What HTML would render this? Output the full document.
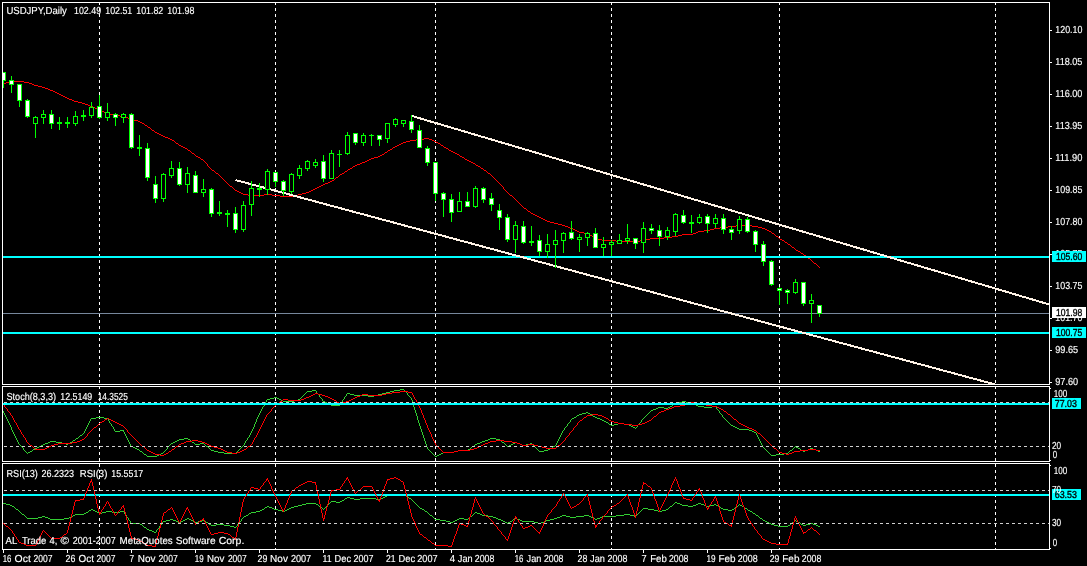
<!DOCTYPE html>
<html><head><meta charset="utf-8"><title>USDJPY,Daily</title>
<style>
html,body{margin:0;padding:0;background:#000;overflow:hidden}
svg{display:block}
text{font-family:"Liberation Sans",sans-serif;white-space:pre;stroke:#fff;stroke-width:.15px}
text.k{stroke:#000;stroke-width:.35px}
</style></head>
<body>
<svg width="1087" height="566" viewBox="0 0 1087 566" shape-rendering="crispEdges">
<rect width="1087" height="566" fill="#000"/>
<path d="M99.5 2v3M99.5 8v3M99.5 14v3M99.5 20v3M99.5 26v3M99.5 32v3M99.5 38v3M99.5 44v3M99.5 50v3M99.5 56v3M99.5 62v3M99.5 68v3M99.5 74v3M99.5 80v3M99.5 86v3M99.5 92v3M99.5 98v3M99.5 104v3M99.5 110v3M99.5 116v3M99.5 122v3M99.5 128v3M99.5 134v3M99.5 140v3M99.5 146v3M99.5 152v3M99.5 158v3M99.5 164v3M99.5 170v3M99.5 176v3M99.5 182v3M99.5 188v3M99.5 194v3M99.5 200v3M99.5 206v3M99.5 212v3M99.5 218v3M99.5 224v3M99.5 230v3M99.5 236v3M99.5 242v3M99.5 248v3M99.5 254v3M99.5 260v3M99.5 266v3M99.5 272v3M99.5 278v3M99.5 284v3M99.5 290v3M99.5 296v3M99.5 302v3M99.5 308v3M99.5 314v3M99.5 320v3M99.5 326v3M99.5 332v3M99.5 338v3M99.5 344v3M99.5 350v3M99.5 356v3M99.5 362v3M99.5 368v3M99.5 374v3M99.5 380v3M99.5 386v3M99.5 392v3M99.5 398v3M99.5 404v3M99.5 410v3M99.5 416v3M99.5 422v3M99.5 428v3M99.5 434v3M99.5 440v3M99.5 446v3M99.5 452v3M99.5 458v3M99.5 464v3M99.5 470v3M99.5 476v3M99.5 482v3M99.5 488v3M99.5 494v3M99.5 500v3M99.5 506v3M99.5 512v3M99.5 518v3M99.5 524v3M99.5 530v3M99.5 536v3M99.5 542v3M99.5 548v1M275.5 2v3M275.5 8v3M275.5 14v3M275.5 20v3M275.5 26v3M275.5 32v3M275.5 38v3M275.5 44v3M275.5 50v3M275.5 56v3M275.5 62v3M275.5 68v3M275.5 74v3M275.5 80v3M275.5 86v3M275.5 92v3M275.5 98v3M275.5 104v3M275.5 110v3M275.5 116v3M275.5 122v3M275.5 128v3M275.5 134v3M275.5 140v3M275.5 146v3M275.5 152v3M275.5 158v3M275.5 164v3M275.5 170v3M275.5 176v3M275.5 182v3M275.5 188v3M275.5 194v3M275.5 200v3M275.5 206v3M275.5 212v3M275.5 218v3M275.5 224v3M275.5 230v3M275.5 236v3M275.5 242v3M275.5 248v3M275.5 254v3M275.5 260v3M275.5 266v3M275.5 272v3M275.5 278v3M275.5 284v3M275.5 290v3M275.5 296v3M275.5 302v3M275.5 308v3M275.5 314v3M275.5 320v3M275.5 326v3M275.5 332v3M275.5 338v3M275.5 344v3M275.5 350v3M275.5 356v3M275.5 362v3M275.5 368v3M275.5 374v3M275.5 380v3M275.5 386v3M275.5 392v3M275.5 398v3M275.5 404v3M275.5 410v3M275.5 416v3M275.5 422v3M275.5 428v3M275.5 434v3M275.5 440v3M275.5 446v3M275.5 452v3M275.5 458v3M275.5 464v3M275.5 470v3M275.5 476v3M275.5 482v3M275.5 488v3M275.5 494v3M275.5 500v3M275.5 506v3M275.5 512v3M275.5 518v3M275.5 524v3M275.5 530v3M275.5 536v3M275.5 542v3M275.5 548v1M435.5 2v3M435.5 8v3M435.5 14v3M435.5 20v3M435.5 26v3M435.5 32v3M435.5 38v3M435.5 44v3M435.5 50v3M435.5 56v3M435.5 62v3M435.5 68v3M435.5 74v3M435.5 80v3M435.5 86v3M435.5 92v3M435.5 98v3M435.5 104v3M435.5 110v3M435.5 116v3M435.5 122v3M435.5 128v3M435.5 134v3M435.5 140v3M435.5 146v3M435.5 152v3M435.5 158v3M435.5 164v3M435.5 170v3M435.5 176v3M435.5 182v3M435.5 188v3M435.5 194v3M435.5 200v3M435.5 206v3M435.5 212v3M435.5 218v3M435.5 224v3M435.5 230v3M435.5 236v3M435.5 242v3M435.5 248v3M435.5 254v3M435.5 260v3M435.5 266v3M435.5 272v3M435.5 278v3M435.5 284v3M435.5 290v3M435.5 296v3M435.5 302v3M435.5 308v3M435.5 314v3M435.5 320v3M435.5 326v3M435.5 332v3M435.5 338v3M435.5 344v3M435.5 350v3M435.5 356v3M435.5 362v3M435.5 368v3M435.5 374v3M435.5 380v3M435.5 386v3M435.5 392v3M435.5 398v3M435.5 404v3M435.5 410v3M435.5 416v3M435.5 422v3M435.5 428v3M435.5 434v3M435.5 440v3M435.5 446v3M435.5 452v3M435.5 458v3M435.5 464v3M435.5 470v3M435.5 476v3M435.5 482v3M435.5 488v3M435.5 494v3M435.5 500v3M435.5 506v3M435.5 512v3M435.5 518v3M435.5 524v3M435.5 530v3M435.5 536v3M435.5 542v3M435.5 548v1M611.5 2v3M611.5 8v3M611.5 14v3M611.5 20v3M611.5 26v3M611.5 32v3M611.5 38v3M611.5 44v3M611.5 50v3M611.5 56v3M611.5 62v3M611.5 68v3M611.5 74v3M611.5 80v3M611.5 86v3M611.5 92v3M611.5 98v3M611.5 104v3M611.5 110v3M611.5 116v3M611.5 122v3M611.5 128v3M611.5 134v3M611.5 140v3M611.5 146v3M611.5 152v3M611.5 158v3M611.5 164v3M611.5 170v3M611.5 176v3M611.5 182v3M611.5 188v3M611.5 194v3M611.5 200v3M611.5 206v3M611.5 212v3M611.5 218v3M611.5 224v3M611.5 230v3M611.5 236v3M611.5 242v3M611.5 248v3M611.5 254v3M611.5 260v3M611.5 266v3M611.5 272v3M611.5 278v3M611.5 284v3M611.5 290v3M611.5 296v3M611.5 302v3M611.5 308v3M611.5 314v3M611.5 320v3M611.5 326v3M611.5 332v3M611.5 338v3M611.5 344v3M611.5 350v3M611.5 356v3M611.5 362v3M611.5 368v3M611.5 374v3M611.5 380v3M611.5 386v3M611.5 392v3M611.5 398v3M611.5 404v3M611.5 410v3M611.5 416v3M611.5 422v3M611.5 428v3M611.5 434v3M611.5 440v3M611.5 446v3M611.5 452v3M611.5 458v3M611.5 464v3M611.5 470v3M611.5 476v3M611.5 482v3M611.5 488v3M611.5 494v3M611.5 500v3M611.5 506v3M611.5 512v3M611.5 518v3M611.5 524v3M611.5 530v3M611.5 536v3M611.5 542v3M611.5 548v1M779.5 2v3M779.5 8v3M779.5 14v3M779.5 20v3M779.5 26v3M779.5 32v3M779.5 38v3M779.5 44v3M779.5 50v3M779.5 56v3M779.5 62v3M779.5 68v3M779.5 74v3M779.5 80v3M779.5 86v3M779.5 92v3M779.5 98v3M779.5 104v3M779.5 110v3M779.5 116v3M779.5 122v3M779.5 128v3M779.5 134v3M779.5 140v3M779.5 146v3M779.5 152v3M779.5 158v3M779.5 164v3M779.5 170v3M779.5 176v3M779.5 182v3M779.5 188v3M779.5 194v3M779.5 200v3M779.5 206v3M779.5 212v3M779.5 218v3M779.5 224v3M779.5 230v3M779.5 236v3M779.5 242v3M779.5 248v3M779.5 254v3M779.5 260v3M779.5 266v3M779.5 272v3M779.5 278v3M779.5 284v3M779.5 290v3M779.5 296v3M779.5 302v3M779.5 308v3M779.5 314v3M779.5 320v3M779.5 326v3M779.5 332v3M779.5 338v3M779.5 344v3M779.5 350v3M779.5 356v3M779.5 362v3M779.5 368v3M779.5 374v3M779.5 380v3M779.5 386v3M779.5 392v3M779.5 398v3M779.5 404v3M779.5 410v3M779.5 416v3M779.5 422v3M779.5 428v3M779.5 434v3M779.5 440v3M779.5 446v3M779.5 452v3M779.5 458v3M779.5 464v3M779.5 470v3M779.5 476v3M779.5 482v3M779.5 488v3M779.5 494v3M779.5 500v3M779.5 506v3M779.5 512v3M779.5 518v3M779.5 524v3M779.5 530v3M779.5 536v3M779.5 542v3M779.5 548v1M995.5 2v3M995.5 8v3M995.5 14v3M995.5 20v3M995.5 26v3M995.5 32v3M995.5 38v3M995.5 44v3M995.5 50v3M995.5 56v3M995.5 62v3M995.5 68v3M995.5 74v3M995.5 80v3M995.5 86v3M995.5 92v3M995.5 98v3M995.5 104v3M995.5 110v3M995.5 116v3M995.5 122v3M995.5 128v3M995.5 134v3M995.5 140v3M995.5 146v3M995.5 152v3M995.5 158v3M995.5 164v3M995.5 170v3M995.5 176v3M995.5 182v3M995.5 188v3M995.5 194v3M995.5 200v3M995.5 206v3M995.5 212v3M995.5 218v3M995.5 224v3M995.5 230v3M995.5 236v3M995.5 242v3M995.5 248v3M995.5 254v3M995.5 260v3M995.5 266v3M995.5 272v3M995.5 278v3M995.5 284v3M995.5 290v3M995.5 296v3M995.5 302v3M995.5 308v3M995.5 314v3M995.5 320v3M995.5 326v3M995.5 332v3M995.5 338v3M995.5 344v3M995.5 350v3M995.5 356v3M995.5 362v3M995.5 368v3M995.5 374v3M995.5 380v3M995.5 386v3M995.5 392v3M995.5 398v3M995.5 404v3M995.5 410v3M995.5 416v3M995.5 422v3M995.5 428v3M995.5 434v3M995.5 440v3M995.5 446v3M995.5 452v3M995.5 458v3M995.5 464v3M995.5 470v3M995.5 476v3M995.5 482v3M995.5 488v3M995.5 494v3M995.5 500v3M995.5 506v3M995.5 512v3M995.5 518v3M995.5 524v3M995.5 530v3M995.5 536v3M995.5 542v3M995.5 548v1" fill="none" stroke="#fff" stroke-width="1"/>
<path d="M10 81.5h14M6 82.5h4M24 82.5h5M3 83.5h3M29 83.5h3M32 84.5h2M34 85.5h4M38 86.5h4M42 87.5h3M45 88.5h3M48 89.5h2M50 90.5h3M53 91.5h2M55 92.5h2M57 93.5h2M59 94.5h2M61 95.5h2M63 96.5h2M65 97.5h2M67 98.5h2M69 99.5h3M72 100.5h2M74 101.5h4M78 102.5h4M82 103.5h3M85 104.5h3M88 105.5h2M90 106.5h3M93 107.5h2M95 108.5h2M97 109.5h2M99 110.5h2M101 111.5h3M104 112.5h2M106 113.5h4M110 114.5h4M114 115.5h6M120 116.5h5M125 117.5h3M128 118.5h2M130 119.5h4M134 120.5h4M138 121.5h2M140 122.5h2M142 123.5h2M144 124.5h1M145 125.5h2M147 126.5h1M148 127.5h2M150 128.5h1M151 129.5h1M152 130.5h2M154 131.5h1M155 132.5h2M157 133.5h2M159 134.5h2M161 135.5h2M163 136.5h2M165 137.5h3M168 138.5h2M424 138.5h5M170 139.5h2M416 139.5h8M429 139.5h3M172 140.5h2M410 140.5h6M432 140.5h2M174 141.5h1M406 141.5h4M434 141.5h2M175 142.5h1M403 142.5h3M436 142.5h2M176 143.5h2M401 143.5h2M438 143.5h2M178 144.5h1M399 144.5h2M440 144.5h1M179 145.5h2M397 145.5h2M441 145.5h2M181 146.5h2M395 146.5h2M443 146.5h1M183 147.5h2M393 147.5h2M444 147.5h2M185 148.5h2M392 148.5h1M446 148.5h2M187 149.5h1M390 149.5h2M448 149.5h1M188 150.5h2M388 150.5h2M449 150.5h2M190 151.5h1M387 151.5h1M451 151.5h2M191 152.5h1M385 152.5h2M453 152.5h2M192 153.5h2M384 153.5h1M455 153.5h2M194 154.5h1M382 154.5h2M457 154.5h2M195 155.5h1M380 155.5h2M459 155.5h1M196 156.5h2M378 156.5h2M460 156.5h2M198 157.5h2M374 157.5h4M462 157.5h2M200 158.5h1M371 158.5h3M464 158.5h1M201 159.5h2M369 159.5h2M465 159.5h2M203 160.5h1M367 160.5h2M467 160.5h2M204 161.5h1M365 161.5h2M469 161.5h2M205 162.5h1M362 162.5h3M471 162.5h2M206 163.5h1M360 163.5h2M473 163.5h2M207 164.5h1M357 164.5h3M475 164.5h1M207 165.5h1M355 165.5h2M476 165.5h2M208 166.5h1M353 166.5h2M478 166.5h2M209 167.5h1M352 167.5h1M480 167.5h1M210 168.5h1M350 168.5h2M481 168.5h2M211 169.5h1M348 169.5h2M483 169.5h1M212 170.5h2M347 170.5h1M484 170.5h2M214 171.5h1M345 171.5h2M486 171.5h1M215 172.5h1M344 172.5h1M487 172.5h1M216 173.5h2M342 173.5h2M488 173.5h2M218 174.5h1M340 174.5h2M490 174.5h1M219 175.5h1M339 175.5h1M491 175.5h1M220 176.5h1M338 176.5h1M492 176.5h1M221 177.5h1M336 177.5h2M493 177.5h1M222 178.5h1M335 178.5h1M494 178.5h1M223 179.5h1M334 179.5h1M495 179.5h1M224 180.5h1M332 180.5h2M496 180.5h1M225 181.5h1M330 181.5h2M497 181.5h1M226 182.5h1M328 182.5h2M498 182.5h1M227 183.5h1M325 183.5h3M499 183.5h1M228 184.5h1M323 184.5h2M500 184.5h1M229 185.5h1M321 185.5h2M501 185.5h1M230 186.5h2M319 186.5h2M502 186.5h1M232 187.5h1M317 187.5h2M503 187.5h1M233 188.5h1M315 188.5h2M503 188.5h1M234 189.5h1M313 189.5h2M504 189.5h1M235 190.5h2M311 190.5h2M505 190.5h1M237 191.5h2M309 191.5h2M506 191.5h1M239 192.5h2M306 192.5h3M507 192.5h1M241 193.5h2M302 193.5h4M508 193.5h1M243 194.5h5M264 194.5h8M298 194.5h4M509 194.5h1M248 195.5h16M272 195.5h8M294 195.5h4M510 195.5h2M280 196.5h14M512 196.5h1M513 197.5h1M514 198.5h1M515 199.5h1M516 200.5h1M517 201.5h1M518 202.5h1M519 203.5h1M520 204.5h1M521 205.5h1M522 206.5h1M523 207.5h1M524 208.5h2M526 209.5h1M527 210.5h1M528 211.5h2M530 212.5h1M531 213.5h2M533 214.5h2M535 215.5h2M537 216.5h2M539 217.5h2M541 218.5h2M543 219.5h2M545 220.5h2M547 221.5h3M550 222.5h4M554 223.5h4M558 224.5h4M562 225.5h3M736 225.5h16M565 226.5h3M728 226.5h8M752 226.5h6M568 227.5h2M720 227.5h8M758 227.5h4M570 228.5h3M714 228.5h6M762 228.5h3M573 229.5h2M710 229.5h4M765 229.5h2M575 230.5h2M704 230.5h6M767 230.5h2M577 231.5h2M698 231.5h6M769 231.5h2M579 232.5h5M696 232.5h2M771 232.5h1M584 233.5h4M693 233.5h3M772 233.5h2M588 234.5h2M682 234.5h11M774 234.5h1M590 235.5h2M678 235.5h4M775 235.5h1M592 236.5h1M672 236.5h6M776 236.5h2M593 237.5h2M664 237.5h8M778 237.5h1M595 238.5h3M650 238.5h14M779 238.5h1M598 239.5h4M646 239.5h4M780 239.5h2M602 240.5h14M640 240.5h6M782 240.5h2M616 241.5h24M784 241.5h1M785 242.5h2M787 243.5h1M788 244.5h2M790 245.5h1M791 246.5h1M792 247.5h2M794 248.5h1M795 249.5h1M796 250.5h2M798 251.5h2M800 252.5h1M801 253.5h2M803 254.5h1M804 255.5h2M806 256.5h1M807 257.5h1M808 258.5h2M810 259.5h1M811 260.5h1M812 261.5h1M813 262.5h1M814 263.5h2M816 264.5h1M817 265.5h1M818 266.5h1M819 267.5h1" fill="none" stroke="#ff0000" stroke-width="1"/>
<rect x="0" y="256" width="1049" height="2" fill="#00ffff"/>
<rect x="0" y="332" width="1049" height="2" fill="#00ffff"/>
<rect x="0" y="313" width="1049" height="1" fill="#77879c"/>
<line x1="412" y1="116" x2="1049" y2="304.4" stroke="#fff3e6" stroke-width="2"/>
<line x1="235.5" y1="180" x2="994.5" y2="384.3" stroke="#fff3e6" stroke-width="2"/>
<g id="candles">
<rect x="3" y="72" width="1" height="16" fill="#00ff00"/>
<rect x="1" y="72" width="5" height="9" fill="#00ff00"/>
<rect x="2" y="73" width="3" height="7" fill="#fff"/>
<rect x="11" y="76" width="1" height="17" fill="#00ff00"/>
<rect x="9" y="80" width="5" height="5" fill="#00ff00"/>
<rect x="10" y="81" width="3" height="3" fill="#fff"/>
<rect x="19" y="84" width="1" height="23" fill="#00ff00"/>
<rect x="17" y="84" width="5" height="17" fill="#00ff00"/>
<rect x="18" y="85" width="3" height="15" fill="#fff"/>
<rect x="27" y="99" width="1" height="19" fill="#00ff00"/>
<rect x="25" y="100" width="5" height="17" fill="#00ff00"/>
<rect x="26" y="101" width="3" height="15" fill="#fff"/>
<rect x="35" y="116" width="1" height="22" fill="#00ff00"/>
<rect x="33" y="117" width="5" height="7" fill="#00ff00"/>
<rect x="34" y="118" width="3" height="5" fill="#000"/>
<rect x="43" y="110" width="1" height="14" fill="#00ff00"/>
<rect x="41" y="114" width="5" height="4" fill="#00ff00"/>
<rect x="42" y="115" width="3" height="2" fill="#000"/>
<rect x="51" y="110" width="1" height="19" fill="#00ff00"/>
<rect x="49" y="114" width="5" height="10" fill="#00ff00"/>
<rect x="50" y="115" width="3" height="8" fill="#fff"/>
<rect x="59" y="117" width="1" height="13" fill="#00ff00"/>
<rect x="57" y="122" width="5" height="2" fill="#00ff00"/>
<rect x="67" y="117" width="1" height="11" fill="#00ff00"/>
<rect x="65" y="122" width="5" height="2" fill="#00ff00"/>
<rect x="75" y="111" width="1" height="15" fill="#00ff00"/>
<rect x="73" y="116" width="5" height="8" fill="#00ff00"/>
<rect x="74" y="117" width="3" height="6" fill="#000"/>
<rect x="83" y="110" width="1" height="11" fill="#00ff00"/>
<rect x="81" y="115" width="5" height="2" fill="#00ff00"/>
<rect x="91" y="102" width="1" height="16" fill="#00ff00"/>
<rect x="89" y="107" width="5" height="9" fill="#00ff00"/>
<rect x="90" y="108" width="3" height="7" fill="#000"/>
<rect x="99" y="95" width="1" height="24" fill="#00ff00"/>
<rect x="97" y="106" width="5" height="12" fill="#00ff00"/>
<rect x="98" y="107" width="3" height="10" fill="#fff"/>
<rect x="107" y="103" width="1" height="18" fill="#00ff00"/>
<rect x="105" y="112" width="5" height="6" fill="#00ff00"/>
<rect x="106" y="113" width="3" height="4" fill="#000"/>
<rect x="115" y="113" width="1" height="13" fill="#00ff00"/>
<rect x="113" y="114" width="5" height="4" fill="#00ff00"/>
<rect x="114" y="115" width="3" height="2" fill="#fff"/>
<rect x="123" y="113" width="1" height="10" fill="#00ff00"/>
<rect x="121" y="114" width="5" height="4" fill="#00ff00"/>
<rect x="122" y="115" width="3" height="2" fill="#000"/>
<rect x="131" y="113" width="1" height="36" fill="#00ff00"/>
<rect x="129" y="114" width="5" height="34" fill="#00ff00"/>
<rect x="130" y="115" width="3" height="32" fill="#fff"/>
<rect x="139" y="135" width="1" height="21" fill="#00ff00"/>
<rect x="137" y="147" width="5" height="2" fill="#00ff00"/>
<rect x="147" y="143" width="1" height="38" fill="#00ff00"/>
<rect x="145" y="148" width="5" height="30" fill="#00ff00"/>
<rect x="146" y="149" width="3" height="28" fill="#fff"/>
<rect x="155" y="176" width="1" height="27" fill="#00ff00"/>
<rect x="153" y="184" width="5" height="15" fill="#00ff00"/>
<rect x="154" y="185" width="3" height="13" fill="#fff"/>
<rect x="163" y="173" width="1" height="29" fill="#00ff00"/>
<rect x="161" y="174" width="5" height="25" fill="#00ff00"/>
<rect x="162" y="175" width="3" height="23" fill="#000"/>
<rect x="171" y="161" width="1" height="17" fill="#00ff00"/>
<rect x="169" y="168" width="5" height="8" fill="#00ff00"/>
<rect x="170" y="169" width="3" height="6" fill="#000"/>
<rect x="179" y="162" width="1" height="24" fill="#00ff00"/>
<rect x="177" y="168" width="5" height="17" fill="#00ff00"/>
<rect x="178" y="169" width="3" height="15" fill="#fff"/>
<rect x="187" y="167" width="1" height="26" fill="#00ff00"/>
<rect x="185" y="173" width="5" height="12" fill="#00ff00"/>
<rect x="186" y="174" width="3" height="10" fill="#000"/>
<rect x="195" y="171" width="1" height="22" fill="#00ff00"/>
<rect x="193" y="175" width="5" height="18" fill="#00ff00"/>
<rect x="194" y="176" width="3" height="16" fill="#fff"/>
<rect x="203" y="179" width="1" height="18" fill="#00ff00"/>
<rect x="201" y="189" width="5" height="4" fill="#00ff00"/>
<rect x="202" y="190" width="3" height="2" fill="#000"/>
<rect x="211" y="188" width="1" height="29" fill="#00ff00"/>
<rect x="209" y="189" width="5" height="25" fill="#00ff00"/>
<rect x="210" y="190" width="3" height="23" fill="#fff"/>
<rect x="219" y="201" width="1" height="15" fill="#00ff00"/>
<rect x="217" y="212" width="5" height="2" fill="#00ff00"/>
<rect x="227" y="210" width="1" height="17" fill="#00ff00"/>
<rect x="225" y="213" width="5" height="2" fill="#00ff00"/>
<rect x="235" y="207" width="1" height="26" fill="#00ff00"/>
<rect x="233" y="213" width="5" height="17" fill="#00ff00"/>
<rect x="234" y="214" width="3" height="15" fill="#fff"/>
<rect x="243" y="201" width="1" height="31" fill="#00ff00"/>
<rect x="241" y="205" width="5" height="25" fill="#00ff00"/>
<rect x="242" y="206" width="3" height="23" fill="#000"/>
<rect x="251" y="181" width="1" height="35" fill="#00ff00"/>
<rect x="249" y="188" width="5" height="17" fill="#00ff00"/>
<rect x="250" y="189" width="3" height="15" fill="#000"/>
<rect x="259" y="183" width="1" height="14" fill="#00ff00"/>
<rect x="257" y="188" width="5" height="2" fill="#00ff00"/>
<rect x="267" y="169" width="1" height="26" fill="#00ff00"/>
<rect x="265" y="171" width="5" height="19" fill="#00ff00"/>
<rect x="266" y="172" width="3" height="17" fill="#000"/>
<rect x="275" y="172" width="1" height="15" fill="#00ff00"/>
<rect x="273" y="172" width="5" height="10" fill="#00ff00"/>
<rect x="274" y="173" width="3" height="8" fill="#fff"/>
<rect x="283" y="180" width="1" height="16" fill="#00ff00"/>
<rect x="281" y="181" width="5" height="10" fill="#00ff00"/>
<rect x="282" y="182" width="3" height="8" fill="#fff"/>
<rect x="291" y="173" width="1" height="21" fill="#00ff00"/>
<rect x="289" y="174" width="5" height="18" fill="#00ff00"/>
<rect x="290" y="175" width="3" height="16" fill="#000"/>
<rect x="299" y="165" width="1" height="14" fill="#00ff00"/>
<rect x="297" y="168" width="5" height="8" fill="#00ff00"/>
<rect x="298" y="169" width="3" height="6" fill="#000"/>
<rect x="307" y="160" width="1" height="11" fill="#00ff00"/>
<rect x="305" y="161" width="5" height="8" fill="#00ff00"/>
<rect x="306" y="162" width="3" height="6" fill="#000"/>
<rect x="315" y="159" width="1" height="9" fill="#00ff00"/>
<rect x="313" y="162" width="5" height="4" fill="#00ff00"/>
<rect x="314" y="163" width="3" height="2" fill="#000"/>
<rect x="323" y="155" width="1" height="27" fill="#00ff00"/>
<rect x="321" y="161" width="5" height="18" fill="#00ff00"/>
<rect x="322" y="162" width="3" height="16" fill="#fff"/>
<rect x="331" y="150" width="1" height="29" fill="#00ff00"/>
<rect x="329" y="153" width="5" height="26" fill="#00ff00"/>
<rect x="330" y="154" width="3" height="24" fill="#000"/>
<rect x="339" y="150" width="1" height="17" fill="#00ff00"/>
<rect x="337" y="154" width="5" height="1" fill="#00ff00"/>
<rect x="347" y="132" width="1" height="23" fill="#00ff00"/>
<rect x="345" y="135" width="5" height="19" fill="#00ff00"/>
<rect x="346" y="136" width="3" height="17" fill="#000"/>
<rect x="355" y="133" width="1" height="12" fill="#00ff00"/>
<rect x="353" y="133" width="5" height="10" fill="#00ff00"/>
<rect x="354" y="134" width="3" height="8" fill="#fff"/>
<rect x="363" y="133" width="1" height="13" fill="#00ff00"/>
<rect x="361" y="135" width="5" height="8" fill="#00ff00"/>
<rect x="362" y="136" width="3" height="6" fill="#000"/>
<rect x="371" y="134" width="1" height="12" fill="#00ff00"/>
<rect x="369" y="135" width="5" height="1" fill="#00ff00"/>
<rect x="379" y="135" width="1" height="11" fill="#00ff00"/>
<rect x="377" y="135" width="5" height="5" fill="#00ff00"/>
<rect x="378" y="136" width="3" height="3" fill="#fff"/>
<rect x="387" y="123" width="1" height="20" fill="#00ff00"/>
<rect x="385" y="123" width="5" height="16" fill="#00ff00"/>
<rect x="386" y="124" width="3" height="14" fill="#000"/>
<rect x="395" y="118" width="1" height="9" fill="#00ff00"/>
<rect x="393" y="119" width="5" height="6" fill="#00ff00"/>
<rect x="394" y="120" width="3" height="4" fill="#000"/>
<rect x="403" y="120" width="1" height="7" fill="#00ff00"/>
<rect x="401" y="120" width="5" height="4" fill="#00ff00"/>
<rect x="402" y="121" width="3" height="2" fill="#000"/>
<rect x="411" y="115" width="1" height="18" fill="#00ff00"/>
<rect x="409" y="121" width="5" height="9" fill="#00ff00"/>
<rect x="410" y="122" width="3" height="7" fill="#fff"/>
<rect x="419" y="125" width="1" height="23" fill="#00ff00"/>
<rect x="417" y="130" width="5" height="18" fill="#00ff00"/>
<rect x="418" y="131" width="3" height="16" fill="#fff"/>
<rect x="427" y="146" width="1" height="20" fill="#00ff00"/>
<rect x="425" y="148" width="5" height="15" fill="#00ff00"/>
<rect x="426" y="149" width="3" height="13" fill="#fff"/>
<rect x="435" y="162" width="1" height="39" fill="#00ff00"/>
<rect x="433" y="162" width="5" height="32" fill="#00ff00"/>
<rect x="434" y="163" width="3" height="30" fill="#fff"/>
<rect x="443" y="192" width="1" height="25" fill="#00ff00"/>
<rect x="441" y="193" width="5" height="7" fill="#00ff00"/>
<rect x="442" y="194" width="3" height="5" fill="#fff"/>
<rect x="451" y="194" width="1" height="28" fill="#00ff00"/>
<rect x="449" y="199" width="5" height="14" fill="#00ff00"/>
<rect x="450" y="200" width="3" height="12" fill="#fff"/>
<rect x="459" y="192" width="1" height="20" fill="#00ff00"/>
<rect x="457" y="201" width="5" height="11" fill="#00ff00"/>
<rect x="458" y="202" width="3" height="9" fill="#000"/>
<rect x="467" y="192" width="1" height="15" fill="#00ff00"/>
<rect x="465" y="201" width="5" height="6" fill="#00ff00"/>
<rect x="466" y="202" width="3" height="4" fill="#fff"/>
<rect x="475" y="186" width="1" height="22" fill="#00ff00"/>
<rect x="473" y="188" width="5" height="19" fill="#00ff00"/>
<rect x="474" y="189" width="3" height="17" fill="#000"/>
<rect x="483" y="187" width="1" height="16" fill="#00ff00"/>
<rect x="481" y="188" width="5" height="12" fill="#00ff00"/>
<rect x="482" y="189" width="3" height="10" fill="#fff"/>
<rect x="491" y="193" width="1" height="18" fill="#00ff00"/>
<rect x="489" y="198" width="5" height="7" fill="#00ff00"/>
<rect x="490" y="199" width="3" height="5" fill="#fff"/>
<rect x="499" y="204" width="1" height="26" fill="#00ff00"/>
<rect x="497" y="210" width="5" height="8" fill="#00ff00"/>
<rect x="498" y="211" width="3" height="6" fill="#fff"/>
<rect x="507" y="214" width="1" height="28" fill="#00ff00"/>
<rect x="505" y="217" width="5" height="23" fill="#00ff00"/>
<rect x="506" y="218" width="3" height="21" fill="#fff"/>
<rect x="515" y="221" width="1" height="32" fill="#00ff00"/>
<rect x="513" y="225" width="5" height="15" fill="#00ff00"/>
<rect x="514" y="226" width="3" height="13" fill="#000"/>
<rect x="523" y="221" width="1" height="23" fill="#00ff00"/>
<rect x="521" y="226" width="5" height="17" fill="#00ff00"/>
<rect x="522" y="227" width="3" height="15" fill="#fff"/>
<rect x="531" y="226" width="1" height="20" fill="#00ff00"/>
<rect x="529" y="241" width="5" height="2" fill="#00ff00"/>
<rect x="539" y="235" width="1" height="21" fill="#00ff00"/>
<rect x="537" y="240" width="5" height="12" fill="#00ff00"/>
<rect x="538" y="241" width="3" height="10" fill="#fff"/>
<rect x="547" y="234" width="1" height="24" fill="#00ff00"/>
<rect x="545" y="244" width="5" height="8" fill="#00ff00"/>
<rect x="546" y="245" width="3" height="6" fill="#000"/>
<rect x="555" y="230" width="1" height="38" fill="#00ff00"/>
<rect x="553" y="240" width="5" height="5" fill="#00ff00"/>
<rect x="554" y="241" width="3" height="3" fill="#000"/>
<rect x="563" y="232" width="1" height="21" fill="#00ff00"/>
<rect x="561" y="233" width="5" height="8" fill="#00ff00"/>
<rect x="562" y="234" width="3" height="6" fill="#000"/>
<rect x="571" y="221" width="1" height="19" fill="#00ff00"/>
<rect x="569" y="232" width="5" height="7" fill="#00ff00"/>
<rect x="570" y="233" width="3" height="5" fill="#fff"/>
<rect x="579" y="234" width="1" height="18" fill="#00ff00"/>
<rect x="577" y="237" width="5" height="3" fill="#00ff00"/>
<rect x="578" y="238" width="3" height="1" fill="#000"/>
<rect x="587" y="232" width="1" height="14" fill="#00ff00"/>
<rect x="585" y="233" width="5" height="5" fill="#00ff00"/>
<rect x="586" y="234" width="3" height="3" fill="#000"/>
<rect x="595" y="228" width="1" height="20" fill="#00ff00"/>
<rect x="593" y="233" width="5" height="15" fill="#00ff00"/>
<rect x="594" y="234" width="3" height="13" fill="#fff"/>
<rect x="603" y="237" width="1" height="19" fill="#00ff00"/>
<rect x="601" y="244" width="5" height="4" fill="#00ff00"/>
<rect x="602" y="245" width="3" height="2" fill="#000"/>
<rect x="611" y="240" width="1" height="16" fill="#00ff00"/>
<rect x="609" y="242" width="5" height="3" fill="#00ff00"/>
<rect x="610" y="243" width="3" height="1" fill="#000"/>
<rect x="619" y="234" width="1" height="10" fill="#00ff00"/>
<rect x="617" y="240" width="5" height="4" fill="#00ff00"/>
<rect x="618" y="241" width="3" height="2" fill="#000"/>
<rect x="627" y="224" width="1" height="20" fill="#00ff00"/>
<rect x="625" y="238" width="5" height="3" fill="#00ff00"/>
<rect x="626" y="239" width="3" height="1" fill="#000"/>
<rect x="635" y="238" width="1" height="11" fill="#00ff00"/>
<rect x="633" y="238" width="5" height="6" fill="#00ff00"/>
<rect x="634" y="239" width="3" height="4" fill="#fff"/>
<rect x="643" y="222" width="1" height="31" fill="#00ff00"/>
<rect x="641" y="228" width="5" height="15" fill="#00ff00"/>
<rect x="642" y="229" width="3" height="13" fill="#000"/>
<rect x="651" y="224" width="1" height="10" fill="#00ff00"/>
<rect x="649" y="228" width="5" height="3" fill="#00ff00"/>
<rect x="650" y="229" width="3" height="1" fill="#fff"/>
<rect x="659" y="225" width="1" height="21" fill="#00ff00"/>
<rect x="657" y="230" width="5" height="7" fill="#00ff00"/>
<rect x="658" y="231" width="3" height="5" fill="#fff"/>
<rect x="667" y="227" width="1" height="13" fill="#00ff00"/>
<rect x="665" y="230" width="5" height="7" fill="#00ff00"/>
<rect x="666" y="231" width="3" height="5" fill="#000"/>
<rect x="675" y="213" width="1" height="23" fill="#00ff00"/>
<rect x="673" y="214" width="5" height="18" fill="#00ff00"/>
<rect x="674" y="215" width="3" height="16" fill="#000"/>
<rect x="683" y="210" width="1" height="14" fill="#00ff00"/>
<rect x="681" y="215" width="5" height="8" fill="#00ff00"/>
<rect x="682" y="216" width="3" height="6" fill="#fff"/>
<rect x="691" y="215" width="1" height="18" fill="#00ff00"/>
<rect x="689" y="222" width="5" height="2" fill="#00ff00"/>
<rect x="699" y="214" width="1" height="10" fill="#00ff00"/>
<rect x="697" y="217" width="5" height="6" fill="#00ff00"/>
<rect x="698" y="218" width="3" height="4" fill="#000"/>
<rect x="707" y="214" width="1" height="19" fill="#00ff00"/>
<rect x="705" y="216" width="5" height="8" fill="#00ff00"/>
<rect x="706" y="217" width="3" height="6" fill="#fff"/>
<rect x="715" y="214" width="1" height="14" fill="#00ff00"/>
<rect x="713" y="218" width="5" height="6" fill="#00ff00"/>
<rect x="714" y="219" width="3" height="4" fill="#000"/>
<rect x="723" y="214" width="1" height="20" fill="#00ff00"/>
<rect x="721" y="218" width="5" height="12" fill="#00ff00"/>
<rect x="722" y="219" width="3" height="10" fill="#fff"/>
<rect x="731" y="226" width="1" height="14" fill="#00ff00"/>
<rect x="729" y="229" width="5" height="4" fill="#00ff00"/>
<rect x="730" y="230" width="3" height="2" fill="#fff"/>
<rect x="739" y="216" width="1" height="18" fill="#00ff00"/>
<rect x="737" y="219" width="5" height="12" fill="#00ff00"/>
<rect x="738" y="220" width="3" height="10" fill="#000"/>
<rect x="747" y="217" width="1" height="16" fill="#00ff00"/>
<rect x="745" y="219" width="5" height="13" fill="#00ff00"/>
<rect x="746" y="220" width="3" height="11" fill="#fff"/>
<rect x="755" y="230" width="1" height="22" fill="#00ff00"/>
<rect x="753" y="231" width="5" height="14" fill="#00ff00"/>
<rect x="754" y="232" width="3" height="12" fill="#fff"/>
<rect x="763" y="241" width="1" height="25" fill="#00ff00"/>
<rect x="761" y="244" width="5" height="18" fill="#00ff00"/>
<rect x="762" y="245" width="3" height="16" fill="#fff"/>
<rect x="771" y="260" width="1" height="26" fill="#00ff00"/>
<rect x="769" y="261" width="5" height="24" fill="#00ff00"/>
<rect x="770" y="262" width="3" height="22" fill="#fff"/>
<rect x="779" y="287" width="1" height="18" fill="#00ff00"/>
<rect x="777" y="288" width="5" height="3" fill="#00ff00"/>
<rect x="778" y="289" width="3" height="1" fill="#fff"/>
<rect x="787" y="289" width="1" height="15" fill="#00ff00"/>
<rect x="785" y="290" width="5" height="3" fill="#00ff00"/>
<rect x="786" y="291" width="3" height="1" fill="#fff"/>
<rect x="795" y="279" width="1" height="15" fill="#00ff00"/>
<rect x="793" y="282" width="5" height="11" fill="#00ff00"/>
<rect x="794" y="283" width="3" height="9" fill="#000"/>
<rect x="803" y="282" width="1" height="24" fill="#00ff00"/>
<rect x="801" y="282" width="5" height="22" fill="#00ff00"/>
<rect x="802" y="283" width="3" height="20" fill="#fff"/>
<rect x="811" y="294" width="1" height="29" fill="#00ff00"/>
<rect x="809" y="300" width="5" height="4" fill="#00ff00"/>
<rect x="810" y="301" width="3" height="2" fill="#000"/>
<rect x="819" y="305" width="1" height="12" fill="#00ff00"/>
<rect x="817" y="305" width="5" height="9" fill="#00ff00"/>
<rect x="818" y="306" width="3" height="7" fill="#fff"/>
</g>
<path d="M400 389.5h4M312 390.5h4M394 390.5h6M404 390.5h1M307 391.5h5M316 391.5h1M390 391.5h4M405 391.5h1M306 392.5h1M316 392.5h1M386 392.5h4M406 392.5h1M305 393.5h1M317 393.5h1M347 393.5h3M382 393.5h4M407 393.5h1M304 394.5h1M318 394.5h1M346 394.5h1M350 394.5h4M378 394.5h4M407 394.5h1M303 395.5h1M319 395.5h1M346 395.5h1M354 395.5h14M374 395.5h4M408 395.5h1M302 396.5h1M319 396.5h1M345 396.5h1M368 396.5h6M409 396.5h1M274 397.5h3M301 397.5h1M320 397.5h1M344 397.5h1M410 397.5h1M270 398.5h4M277 398.5h2M300 398.5h1M321 398.5h1M344 398.5h1M411 398.5h1M267 399.5h3M279 399.5h2M298 399.5h2M322 399.5h1M343 399.5h1M411 399.5h1M266 400.5h1M281 400.5h2M294 400.5h4M322 400.5h1M342 400.5h1M412 400.5h1M266 401.5h1M283 401.5h11M323 401.5h2M342 401.5h1M412 401.5h1M682 401.5h4M265 402.5h1M325 402.5h2M341 402.5h1M412 402.5h1M678 402.5h4M686 402.5h4M265 403.5h1M327 403.5h2M340 403.5h1M413 403.5h1M675 403.5h3M690 403.5h3M264 404.5h1M329 404.5h2M340 404.5h1M413 404.5h1M673 404.5h2M693 404.5h3M264 405.5h1M331 405.5h9M413 405.5h1M672 405.5h1M696 405.5h2M263 406.5h1M413 406.5h1M670 406.5h2M698 406.5h6M712 406.5h4M262 407.5h1M414 407.5h1M658 407.5h6M668 407.5h2M704 407.5h8M716 407.5h1M262 408.5h1M414 408.5h1M656 408.5h2M664 408.5h4M716 408.5h1M261 409.5h1M414 409.5h1M653 409.5h3M717 409.5h1M261 410.5h1M415 410.5h1M651 410.5h2M718 410.5h1M3 411.5h1M260 411.5h1M415 411.5h1M650 411.5h1M719 411.5h1M3 412.5h1M260 412.5h1M415 412.5h1M586 412.5h2M649 412.5h1M719 412.5h1M4 413.5h1M259 413.5h1M416 413.5h1M582 413.5h4M588 413.5h2M648 413.5h1M720 413.5h1M4 414.5h1M259 414.5h1M416 414.5h1M579 414.5h3M590 414.5h2M647 414.5h1M721 414.5h1M5 415.5h1M258 415.5h1M416 415.5h1M577 415.5h2M592 415.5h1M646 415.5h1M722 415.5h1M5 416.5h1M258 416.5h1M417 416.5h1M576 416.5h1M593 416.5h2M645 416.5h1M722 416.5h1M6 417.5h1M96 417.5h8M257 417.5h1M417 417.5h1M574 417.5h2M595 417.5h2M644 417.5h1M723 417.5h1M6 418.5h1M91 418.5h5M104 418.5h4M257 418.5h1M417 418.5h1M572 418.5h2M597 418.5h3M643 418.5h1M724 418.5h1M7 419.5h1M90 419.5h1M108 419.5h1M256 419.5h1M417 419.5h1M571 419.5h1M600 419.5h2M642 419.5h1M725 419.5h1M7 420.5h1M90 420.5h1M108 420.5h1M256 420.5h1M418 420.5h1M570 420.5h1M602 420.5h2M641 420.5h1M726 420.5h1M8 421.5h1M89 421.5h1M109 421.5h1M256 421.5h1M418 421.5h1M570 421.5h1M604 421.5h2M641 421.5h1M727 421.5h1M8 422.5h1M89 422.5h1M109 422.5h1M255 422.5h1M418 422.5h1M569 422.5h1M606 422.5h2M640 422.5h1M728 422.5h1M9 423.5h1M88 423.5h1M110 423.5h1M255 423.5h1M419 423.5h1M568 423.5h1M608 423.5h1M618 423.5h6M639 423.5h1M729 423.5h1M9 424.5h1M88 424.5h1M111 424.5h1M254 424.5h1M419 424.5h1M567 424.5h1M609 424.5h2M614 424.5h4M624 424.5h5M638 424.5h1M730 424.5h1M10 425.5h1M87 425.5h1M111 425.5h1M254 425.5h1M419 425.5h1M567 425.5h1M611 425.5h3M629 425.5h2M637 425.5h1M731 425.5h2M10 426.5h1M87 426.5h1M112 426.5h1M254 426.5h1M420 426.5h1M566 426.5h1M631 426.5h2M637 426.5h1M733 426.5h2M11 427.5h1M86 427.5h1M113 427.5h1M253 427.5h1M420 427.5h1M565 427.5h1M633 427.5h2M636 427.5h1M735 427.5h2M11 428.5h1M86 428.5h1M113 428.5h1M253 428.5h1M420 428.5h1M564 428.5h1M635 428.5h1M737 428.5h2M11 429.5h1M85 429.5h1M114 429.5h1M252 429.5h1M421 429.5h1M564 429.5h1M739 429.5h10M12 430.5h1M85 430.5h1M114 430.5h1M120 430.5h4M252 430.5h1M421 430.5h1M563 430.5h1M749 430.5h3M12 431.5h1M84 431.5h1M115 431.5h5M123 431.5h1M251 431.5h1M421 431.5h1M562 431.5h1M752 431.5h2M13 432.5h1M84 432.5h1M124 432.5h1M251 432.5h1M422 432.5h1M562 432.5h1M754 432.5h2M13 433.5h1M83 433.5h1M124 433.5h1M250 433.5h1M422 433.5h1M561 433.5h1M756 433.5h1M14 434.5h1M82 434.5h1M125 434.5h1M250 434.5h1M422 434.5h1M561 434.5h1M756 434.5h1M14 435.5h1M80 435.5h2M125 435.5h1M249 435.5h1M423 435.5h1M560 435.5h1M757 435.5h1M15 436.5h1M79 436.5h1M126 436.5h1M249 436.5h1M423 436.5h1M560 436.5h1M757 436.5h1M15 437.5h1M78 437.5h1M126 437.5h1M248 437.5h1M423 437.5h1M559 437.5h1M758 437.5h1M16 438.5h1M76 438.5h2M127 438.5h1M184 438.5h4M247 438.5h1M424 438.5h1M490 438.5h6M559 438.5h1M758 438.5h1M16 439.5h1M75 439.5h1M127 439.5h1M179 439.5h5M188 439.5h2M247 439.5h1M424 439.5h1M488 439.5h2M496 439.5h4M558 439.5h1M759 439.5h1M17 440.5h1M73 440.5h2M128 440.5h1M177 440.5h2M190 440.5h1M246 440.5h1M424 440.5h1M485 440.5h3M500 440.5h1M558 440.5h1M759 440.5h1M17 441.5h1M50 441.5h6M72 441.5h1M128 441.5h1M175 441.5h2M191 441.5h1M245 441.5h1M425 441.5h1M482 441.5h3M501 441.5h1M557 441.5h1M760 441.5h1M18 442.5h1M48 442.5h2M56 442.5h6M70 442.5h2M129 442.5h1M173 442.5h2M192 442.5h2M245 442.5h1M425 442.5h1M480 442.5h2M502 442.5h2M515 442.5h2M557 442.5h1M760 442.5h1M18 443.5h1M45 443.5h3M62 443.5h4M68 443.5h2M129 443.5h1M171 443.5h2M194 443.5h1M200 443.5h4M244 443.5h1M425 443.5h1M477 443.5h3M504 443.5h1M513 443.5h2M517 443.5h3M530 443.5h2M556 443.5h1M761 443.5h1M19 444.5h1M43 444.5h2M66 444.5h2M130 444.5h1M170 444.5h1M195 444.5h5M204 444.5h1M244 444.5h1M426 444.5h1M475 444.5h2M505 444.5h1M511 444.5h2M520 444.5h2M526 444.5h4M532 444.5h1M556 444.5h1M761 444.5h1M20 445.5h1M41 445.5h2M130 445.5h1M169 445.5h1M205 445.5h1M243 445.5h1M426 445.5h1M474 445.5h1M506 445.5h1M509 445.5h2M522 445.5h4M533 445.5h1M555 445.5h1M762 445.5h1M21 446.5h1M39 446.5h2M131 446.5h2M168 446.5h1M206 446.5h2M242 446.5h1M426 446.5h1M472 446.5h2M507 446.5h2M534 446.5h1M553 446.5h2M762 446.5h1M795 446.5h1M22 447.5h1M37 447.5h2M133 447.5h2M167 447.5h1M208 447.5h1M241 447.5h1M427 447.5h1M471 447.5h1M535 447.5h1M552 447.5h1M763 447.5h1M794 447.5h1M796 447.5h2M23 448.5h1M35 448.5h2M135 448.5h2M167 448.5h1M209 448.5h1M240 448.5h1M427 448.5h1M470 448.5h1M536 448.5h1M550 448.5h2M764 448.5h1M793 448.5h1M798 448.5h2M810 448.5h3M23 449.5h1M33 449.5h2M137 449.5h2M166 449.5h1M210 449.5h1M239 449.5h1M428 449.5h1M468 449.5h2M537 449.5h1M548 449.5h2M765 449.5h1M792 449.5h1M800 449.5h1M808 449.5h2M813 449.5h3M24 450.5h1M32 450.5h1M139 450.5h1M165 450.5h1M211 450.5h3M238 450.5h1M429 450.5h1M458 450.5h10M538 450.5h1M544 450.5h4M766 450.5h1M790 450.5h2M801 450.5h2M805 450.5h3M816 450.5h2M25 451.5h1M30 451.5h2M140 451.5h2M164 451.5h1M214 451.5h4M237 451.5h1M430 451.5h1M454 451.5h4M539 451.5h5M767 451.5h1M789 451.5h1M803 451.5h2M818 451.5h2M26 452.5h1M28 452.5h2M142 452.5h1M163 452.5h1M218 452.5h6M236 452.5h1M431 452.5h1M443 452.5h11M768 452.5h1M788 452.5h1M27 453.5h1M143 453.5h1M161 453.5h2M224 453.5h12M432 453.5h1M441 453.5h2M769 453.5h1M784 453.5h4M144 454.5h2M159 454.5h2M433 454.5h1M439 454.5h2M770 454.5h1M776 454.5h8M146 455.5h1M157 455.5h2M434 455.5h1M437 455.5h2M771 455.5h5M147 456.5h10M435 456.5h2" fill="none" stroke="#32cd32" stroke-width="1"/>
<path d="M400 391.5h8M392 392.5h8M408 392.5h4M315 393.5h3M386 393.5h6M412 393.5h1M313 394.5h2M318 394.5h4M362 394.5h6M382 394.5h4M412 394.5h1M311 395.5h2M322 395.5h3M360 395.5h2M368 395.5h14M413 395.5h1M309 396.5h2M325 396.5h3M357 396.5h3M413 396.5h1M306 397.5h3M328 397.5h2M355 397.5h2M414 397.5h1M304 398.5h2M330 398.5h2M353 398.5h2M414 398.5h1M283 399.5h5M301 399.5h3M332 399.5h2M351 399.5h2M415 399.5h1M282 400.5h1M288 400.5h13M334 400.5h2M349 400.5h2M416 400.5h1M280 401.5h2M336 401.5h1M346 401.5h3M416 401.5h1M279 402.5h1M337 402.5h2M342 402.5h4M417 402.5h1M690 402.5h6M278 403.5h1M339 403.5h3M417 403.5h1M688 403.5h2M696 403.5h6M3 404.5h1M276 404.5h2M418 404.5h1M685 404.5h3M702 404.5h4M4 405.5h1M275 405.5h1M418 405.5h1M680 405.5h5M706 405.5h6M4 406.5h1M274 406.5h1M419 406.5h1M674 406.5h6M712 406.5h5M5 407.5h1M273 407.5h1M419 407.5h1M672 407.5h2M717 407.5h2M6 408.5h1M272 408.5h1M420 408.5h1M669 408.5h3M719 408.5h2M7 409.5h1M271 409.5h1M420 409.5h1M666 409.5h3M721 409.5h2M7 410.5h1M271 410.5h1M421 410.5h1M664 410.5h2M723 410.5h1M8 411.5h1M270 411.5h1M421 411.5h1M661 411.5h3M724 411.5h2M9 412.5h1M269 412.5h1M421 412.5h1M659 412.5h2M726 412.5h1M10 413.5h1M268 413.5h1M422 413.5h1M658 413.5h1M727 413.5h1M10 414.5h1M267 414.5h1M422 414.5h1M592 414.5h6M657 414.5h1M728 414.5h2M11 415.5h1M266 415.5h1M423 415.5h1M587 415.5h5M598 415.5h4M656 415.5h1M730 415.5h1M12 416.5h1M266 416.5h1M423 416.5h1M586 416.5h1M602 416.5h2M654 416.5h2M731 416.5h1M12 417.5h1M265 417.5h1M423 417.5h1M584 417.5h2M604 417.5h2M653 417.5h1M732 417.5h1M13 418.5h1M107 418.5h2M265 418.5h1M424 418.5h1M583 418.5h1M606 418.5h2M652 418.5h1M733 418.5h1M13 419.5h1M105 419.5h2M109 419.5h2M264 419.5h1M424 419.5h1M582 419.5h1M608 419.5h1M651 419.5h1M734 419.5h2M14 420.5h1M104 420.5h1M111 420.5h2M264 420.5h1M425 420.5h1M580 420.5h2M609 420.5h2M649 420.5h2M736 420.5h1M14 421.5h1M102 421.5h2M113 421.5h2M263 421.5h1M425 421.5h1M579 421.5h1M611 421.5h3M647 421.5h2M737 421.5h1M15 422.5h1M100 422.5h2M115 422.5h2M263 422.5h1M425 422.5h1M578 422.5h1M614 422.5h4M645 422.5h2M738 422.5h1M16 423.5h1M99 423.5h1M117 423.5h2M262 423.5h1M426 423.5h1M577 423.5h1M618 423.5h6M642 423.5h3M739 423.5h2M16 424.5h1M98 424.5h1M119 424.5h2M262 424.5h1M426 424.5h1M577 424.5h1M624 424.5h8M638 424.5h4M741 424.5h2M17 425.5h1M97 425.5h1M121 425.5h2M261 425.5h1M427 425.5h1M576 425.5h1M632 425.5h6M743 425.5h2M17 426.5h1M96 426.5h1M123 426.5h1M261 426.5h1M427 426.5h1M575 426.5h1M745 426.5h2M18 427.5h1M94 427.5h2M124 427.5h1M260 427.5h1M427 427.5h1M574 427.5h1M747 427.5h2M18 428.5h1M93 428.5h1M125 428.5h1M260 428.5h1M428 428.5h1M573 428.5h1M749 428.5h3M19 429.5h1M92 429.5h1M126 429.5h1M259 429.5h1M428 429.5h1M573 429.5h1M752 429.5h2M20 430.5h1M91 430.5h1M127 430.5h1M259 430.5h1M429 430.5h1M572 430.5h1M754 430.5h2M20 431.5h1M90 431.5h1M127 431.5h1M258 431.5h1M429 431.5h1M571 431.5h1M756 431.5h1M21 432.5h1M89 432.5h1M128 432.5h1M258 432.5h1M430 432.5h1M570 432.5h1M757 432.5h1M21 433.5h1M88 433.5h1M129 433.5h1M257 433.5h1M430 433.5h1M569 433.5h1M758 433.5h2M22 434.5h1M87 434.5h1M130 434.5h1M257 434.5h1M431 434.5h1M569 434.5h1M760 434.5h1M23 435.5h1M87 435.5h1M131 435.5h1M256 435.5h1M431 435.5h1M568 435.5h1M761 435.5h1M23 436.5h1M86 436.5h1M132 436.5h1M256 436.5h1M431 436.5h1M567 436.5h1M762 436.5h1M24 437.5h1M85 437.5h1M133 437.5h1M255 437.5h1M432 437.5h1M566 437.5h1M763 437.5h1M25 438.5h1M84 438.5h1M134 438.5h1M254 438.5h1M432 438.5h1M565 438.5h1M764 438.5h1M25 439.5h1M82 439.5h2M135 439.5h1M254 439.5h1M433 439.5h1M565 439.5h1M765 439.5h1M26 440.5h1M80 440.5h2M136 440.5h1M192 440.5h6M253 440.5h1M433 440.5h1M496 440.5h8M564 440.5h1M766 440.5h1M26 441.5h1M77 441.5h3M137 441.5h1M186 441.5h6M198 441.5h4M253 441.5h1M434 441.5h1M490 441.5h6M504 441.5h8M563 441.5h1M767 441.5h1M27 442.5h1M72 442.5h5M138 442.5h1M184 442.5h2M202 442.5h3M252 442.5h1M434 442.5h1M488 442.5h2M512 442.5h5M562 442.5h1M768 442.5h1M28 443.5h1M58 443.5h14M139 443.5h1M181 443.5h3M205 443.5h2M252 443.5h1M435 443.5h1M485 443.5h3M517 443.5h3M561 443.5h1M769 443.5h1M29 444.5h1M54 444.5h4M140 444.5h1M179 444.5h2M207 444.5h2M251 444.5h1M435 444.5h1M483 444.5h2M520 444.5h2M528 444.5h6M560 444.5h1M770 444.5h1M30 445.5h2M51 445.5h3M141 445.5h1M178 445.5h1M209 445.5h2M250 445.5h1M436 445.5h1M481 445.5h2M522 445.5h6M534 445.5h4M558 445.5h2M771 445.5h1M32 446.5h1M49 446.5h2M142 446.5h2M176 446.5h2M211 446.5h3M248 446.5h2M437 446.5h1M479 446.5h2M538 446.5h4M557 446.5h1M772 446.5h1M33 447.5h1M47 447.5h2M144 447.5h1M175 447.5h1M214 447.5h4M247 447.5h1M438 447.5h1M477 447.5h2M542 447.5h4M556 447.5h1M773 447.5h1M34 448.5h1M45 448.5h2M145 448.5h1M174 448.5h1M218 448.5h3M246 448.5h1M439 448.5h1M474 448.5h3M546 448.5h10M774 448.5h2M35 449.5h10M146 449.5h1M172 449.5h2M221 449.5h2M244 449.5h2M440 449.5h1M470 449.5h4M776 449.5h1M808 449.5h8M147 450.5h2M171 450.5h1M223 450.5h2M242 450.5h2M441 450.5h1M458 450.5h12M777 450.5h1M800 450.5h8M816 450.5h4M149 451.5h2M169 451.5h2M225 451.5h2M240 451.5h2M442 451.5h1M454 451.5h4M778 451.5h1M794 451.5h6M151 452.5h2M168 452.5h1M227 452.5h5M237 452.5h3M443 452.5h11M779 452.5h3M792 452.5h2M153 453.5h2M166 453.5h2M232 453.5h5M782 453.5h4M789 453.5h3M155 454.5h5M164 454.5h2M786 454.5h3M160 455.5h4" fill="none" stroke="#ff0000" stroke-width="1"/>
<path d="M4 446.5h3M10 446.5h3M16 446.5h3M22 446.5h3M28 446.5h3M34 446.5h3M40 446.5h3M46 446.5h3M52 446.5h3M58 446.5h3M64 446.5h3M70 446.5h3M76 446.5h3M82 446.5h3M88 446.5h3M94 446.5h3M100 446.5h3M106 446.5h3M112 446.5h3M118 446.5h3M124 446.5h3M130 446.5h3M136 446.5h3M142 446.5h3M148 446.5h3M154 446.5h3M160 446.5h3M166 446.5h3M172 446.5h3M178 446.5h3M184 446.5h3M190 446.5h3M196 446.5h3M202 446.5h3M208 446.5h3M214 446.5h3M220 446.5h3M226 446.5h3M232 446.5h3M238 446.5h3M244 446.5h3M250 446.5h3M256 446.5h3M262 446.5h3M268 446.5h3M274 446.5h3M280 446.5h3M286 446.5h3M292 446.5h3M298 446.5h3M304 446.5h3M310 446.5h3M316 446.5h3M322 446.5h3M328 446.5h3M334 446.5h3M340 446.5h3M346 446.5h3M352 446.5h3M358 446.5h3M364 446.5h3M370 446.5h3M376 446.5h3M382 446.5h3M388 446.5h3M394 446.5h3M400 446.5h3M406 446.5h3M412 446.5h3M418 446.5h3M424 446.5h3M430 446.5h3M436 446.5h3M442 446.5h3M448 446.5h3M454 446.5h3M460 446.5h3M466 446.5h3M472 446.5h3M478 446.5h3M484 446.5h3M490 446.5h3M496 446.5h3M502 446.5h3M508 446.5h3M514 446.5h3M520 446.5h3M526 446.5h3M532 446.5h3M538 446.5h3M544 446.5h3M550 446.5h3M556 446.5h3M562 446.5h3M568 446.5h3M574 446.5h3M580 446.5h3M586 446.5h3M592 446.5h3M598 446.5h3M604 446.5h3M610 446.5h3M616 446.5h3M622 446.5h3M628 446.5h3M634 446.5h3M640 446.5h3M646 446.5h3M652 446.5h3M658 446.5h3M664 446.5h3M670 446.5h3M676 446.5h3M682 446.5h3M688 446.5h3M694 446.5h3M700 446.5h3M706 446.5h3M712 446.5h3M718 446.5h3M724 446.5h3M730 446.5h3M736 446.5h3M742 446.5h3M748 446.5h3M754 446.5h3M760 446.5h3M766 446.5h3M772 446.5h3M778 446.5h3M784 446.5h3M790 446.5h3M796 446.5h3M802 446.5h3M808 446.5h3M814 446.5h3M820 446.5h3M826 446.5h3M832 446.5h3M838 446.5h3M844 446.5h3M850 446.5h3M856 446.5h3M862 446.5h3M868 446.5h3M874 446.5h3M880 446.5h3M886 446.5h3M892 446.5h3M898 446.5h3M904 446.5h3M910 446.5h3M916 446.5h3M922 446.5h3M928 446.5h3M934 446.5h3M940 446.5h3M946 446.5h3M952 446.5h3M958 446.5h3M964 446.5h3M970 446.5h3M976 446.5h3M982 446.5h3M988 446.5h3M994 446.5h3M1000 446.5h3M1006 446.5h3M1012 446.5h3M1018 446.5h3M1024 446.5h3M1030 446.5h3M1036 446.5h3M1042 446.5h3M1048 446.5h1" fill="none" stroke="#d0d0d0" stroke-width="1"/>
<rect x="3" y="403" width="1046" height="2" fill="#00ffff"/>
<path d="M4 402.5h3M10 402.5h3M16 402.5h3M22 402.5h3M28 402.5h3M34 402.5h3M40 402.5h3M46 402.5h3M52 402.5h3M58 402.5h3M64 402.5h3M70 402.5h3M76 402.5h3M82 402.5h3M88 402.5h3M94 402.5h3M100 402.5h3M106 402.5h3M112 402.5h3M118 402.5h3M124 402.5h3M130 402.5h3M136 402.5h3M142 402.5h3M148 402.5h3M154 402.5h3M160 402.5h3M166 402.5h3M172 402.5h3M178 402.5h3M184 402.5h3M190 402.5h3M196 402.5h3M202 402.5h3M208 402.5h3M214 402.5h3M220 402.5h3M226 402.5h3M232 402.5h3M238 402.5h3M244 402.5h3M250 402.5h3M256 402.5h3M262 402.5h3M268 402.5h3M274 402.5h3M280 402.5h3M286 402.5h3M292 402.5h3M298 402.5h3M304 402.5h3M310 402.5h3M316 402.5h3M322 402.5h3M328 402.5h3M334 402.5h3M340 402.5h3M346 402.5h3M352 402.5h3M358 402.5h3M364 402.5h3M370 402.5h3M376 402.5h3M382 402.5h3M388 402.5h3M394 402.5h3M400 402.5h3M406 402.5h3M412 402.5h3M418 402.5h3M424 402.5h3M430 402.5h3M436 402.5h3M442 402.5h3M448 402.5h3M454 402.5h3M460 402.5h3M466 402.5h3M472 402.5h3M478 402.5h3M484 402.5h3M490 402.5h3M496 402.5h3M502 402.5h3M508 402.5h3M514 402.5h3M520 402.5h3M526 402.5h3M532 402.5h3M538 402.5h3M544 402.5h3M550 402.5h3M556 402.5h3M562 402.5h3M568 402.5h3M574 402.5h3M580 402.5h3M586 402.5h3M592 402.5h3M598 402.5h3M604 402.5h3M610 402.5h3M616 402.5h3M622 402.5h3M628 402.5h3M634 402.5h3M640 402.5h3M646 402.5h3M652 402.5h3M658 402.5h3M664 402.5h3M670 402.5h3M676 402.5h3M682 402.5h3M688 402.5h3M694 402.5h3M700 402.5h3M706 402.5h3M712 402.5h3M718 402.5h3M724 402.5h3M730 402.5h3M736 402.5h3M742 402.5h3M748 402.5h3M754 402.5h3M760 402.5h3M766 402.5h3M772 402.5h3M778 402.5h3M784 402.5h3M790 402.5h3M796 402.5h3M802 402.5h3M808 402.5h3M814 402.5h3M820 402.5h3M826 402.5h3M832 402.5h3M838 402.5h3M844 402.5h3M850 402.5h3M856 402.5h3M862 402.5h3M868 402.5h3M874 402.5h3M880 402.5h3M886 402.5h3M892 402.5h3M898 402.5h3M904 402.5h3M910 402.5h3M916 402.5h3M922 402.5h3M928 402.5h3M934 402.5h3M940 402.5h3M946 402.5h3M952 402.5h3M958 402.5h3M964 402.5h3M970 402.5h3M976 402.5h3M982 402.5h3M988 402.5h3M994 402.5h3M1000 402.5h3M1006 402.5h3M1012 402.5h3M1018 402.5h3M1024 402.5h3M1030 402.5h3M1036 402.5h3M1042 402.5h3M1048 402.5h1" fill="none" stroke="#d0d0d0" stroke-width="1"/>
<path d="M392 494.5h12M387 495.5h5M404 495.5h2M385 496.5h2M406 496.5h2M347 497.5h3M383 497.5h2M408 497.5h1M345 498.5h2M350 498.5h4M360 498.5h16M381 498.5h2M409 498.5h2M344 499.5h1M354 499.5h6M376 499.5h5M411 499.5h1M342 500.5h2M412 500.5h1M331 501.5h5M340 501.5h2M413 501.5h1M330 502.5h1M336 502.5h4M414 502.5h1M675 502.5h2M3 503.5h3M306 503.5h10M329 503.5h1M415 503.5h1M674 503.5h1M677 503.5h3M698 503.5h3M6 504.5h4M302 504.5h4M316 504.5h2M328 504.5h1M416 504.5h1M673 504.5h1M680 504.5h2M696 504.5h2M701 504.5h3M714 504.5h2M739 504.5h1M10 505.5h2M298 505.5h4M318 505.5h1M327 505.5h1M417 505.5h1M672 505.5h1M682 505.5h6M693 505.5h3M704 505.5h2M710 505.5h4M716 505.5h2M738 505.5h1M740 505.5h2M12 506.5h2M267 506.5h2M294 506.5h4M319 506.5h1M326 506.5h1M418 506.5h1M670 506.5h2M688 506.5h5M706 506.5h4M718 506.5h2M736 506.5h2M742 506.5h2M14 507.5h1M265 507.5h2M269 507.5h3M291 507.5h3M320 507.5h2M325 507.5h1M419 507.5h1M669 507.5h1M720 507.5h1M735 507.5h1M744 507.5h1M15 508.5h1M264 508.5h1M272 508.5h2M289 508.5h2M322 508.5h1M324 508.5h1M420 508.5h2M643 508.5h5M668 508.5h1M721 508.5h2M734 508.5h1M745 508.5h2M16 509.5h2M91 509.5h2M262 509.5h2M274 509.5h4M287 509.5h2M323 509.5h1M422 509.5h2M642 509.5h1M648 509.5h6M666 509.5h2M723 509.5h5M732 509.5h2M747 509.5h1M18 510.5h1M89 510.5h2M93 510.5h2M260 510.5h2M278 510.5h4M285 510.5h2M424 510.5h1M641 510.5h1M654 510.5h4M662 510.5h4M728 510.5h4M748 510.5h2M19 511.5h1M88 511.5h1M95 511.5h2M106 511.5h6M120 511.5h4M256 511.5h4M282 511.5h3M425 511.5h2M640 511.5h1M658 511.5h4M750 511.5h2M20 512.5h1M86 512.5h2M97 512.5h2M102 512.5h4M112 512.5h8M124 512.5h1M251 512.5h5M427 512.5h1M475 512.5h2M639 512.5h1M752 512.5h1M21 513.5h1M84 513.5h2M99 513.5h3M124 513.5h1M249 513.5h2M428 513.5h1M474 513.5h1M477 513.5h3M638 513.5h1M753 513.5h2M22 514.5h2M75 514.5h9M125 514.5h1M248 514.5h1M429 514.5h1M473 514.5h1M480 514.5h2M624 514.5h6M637 514.5h1M755 514.5h1M24 515.5h1M73 515.5h2M126 515.5h1M246 515.5h2M430 515.5h2M472 515.5h1M482 515.5h6M562 515.5h4M584 515.5h5M616 515.5h8M630 515.5h4M636 515.5h1M756 515.5h2M25 516.5h1M42 516.5h3M71 516.5h2M126 516.5h1M244 516.5h2M432 516.5h1M470 516.5h2M488 516.5h5M560 516.5h2M566 516.5h4M576 516.5h8M589 516.5h2M602 516.5h14M634 516.5h2M758 516.5h1M26 517.5h1M38 517.5h4M45 517.5h3M69 517.5h2M127 517.5h1M243 517.5h1M433 517.5h1M469 517.5h1M493 517.5h3M557 517.5h3M570 517.5h6M591 517.5h2M600 517.5h2M759 517.5h1M27 518.5h11M48 518.5h2M64 518.5h5M128 518.5h1M187 518.5h2M242 518.5h1M434 518.5h1M459 518.5h5M468 518.5h1M496 518.5h2M515 518.5h2M554 518.5h3M593 518.5h2M597 518.5h3M760 518.5h2M50 519.5h14M128 519.5h1M170 519.5h3M185 519.5h2M189 519.5h2M241 519.5h1M435 519.5h5M457 519.5h2M464 519.5h4M498 519.5h3M513 519.5h2M517 519.5h3M550 519.5h4M595 519.5h2M762 519.5h1M129 520.5h1M166 520.5h4M173 520.5h3M183 520.5h2M191 520.5h2M202 520.5h2M241 520.5h1M440 520.5h6M455 520.5h2M501 520.5h2M512 520.5h1M520 520.5h2M546 520.5h4M763 520.5h2M795 520.5h1M130 521.5h1M163 521.5h3M176 521.5h2M181 521.5h2M193 521.5h2M198 521.5h4M204 521.5h2M240 521.5h1M446 521.5h4M453 521.5h2M503 521.5h2M510 521.5h2M522 521.5h12M544 521.5h2M765 521.5h2M794 521.5h1M796 521.5h2M130 522.5h1M162 522.5h1M178 522.5h3M195 522.5h3M206 522.5h2M239 522.5h1M450 522.5h3M505 522.5h2M508 522.5h2M534 522.5h4M541 522.5h3M767 522.5h2M792 522.5h2M798 522.5h2M131 523.5h9M162 523.5h1M208 523.5h1M238 523.5h1M507 523.5h1M538 523.5h3M769 523.5h2M791 523.5h1M800 523.5h1M810 523.5h3M140 524.5h2M161 524.5h1M209 524.5h2M216 524.5h8M237 524.5h1M771 524.5h3M790 524.5h1M801 524.5h2M806 524.5h4M813 524.5h3M142 525.5h1M160 525.5h1M211 525.5h5M224 525.5h6M237 525.5h1M774 525.5h4M788 525.5h2M803 525.5h3M816 525.5h2M143 526.5h1M159 526.5h1M230 526.5h4M236 526.5h1M778 526.5h10M818 526.5h2M144 527.5h2M159 527.5h1M234 527.5h2M146 528.5h1M158 528.5h1M147 529.5h2M157 529.5h1M149 530.5h3M156 530.5h1M152 531.5h2M156 531.5h1M154 532.5h2" fill="none" stroke="#32cd32" stroke-width="1"/>
<rect x="3" y="494" width="1046" height="2" fill="#00ffff"/>
<path d="M347 477.5h1M394 477.5h2M675 477.5h1M267 478.5h1M346 478.5h2M390 478.5h4M396 478.5h2M675 478.5h1M91 479.5h1M266 479.5h2M346 479.5h1M348 479.5h1M387 479.5h3M398 479.5h2M674 479.5h1M676 479.5h1M91 480.5h1M266 480.5h1M268 480.5h1M345 480.5h1M348 480.5h1M387 480.5h1M400 480.5h1M674 480.5h1M676 480.5h1M90 481.5h2M265 481.5h1M268 481.5h1M307 481.5h5M344 481.5h1M349 481.5h1M386 481.5h1M401 481.5h2M673 481.5h1M677 481.5h1M90 482.5h1M92 482.5h1M264 482.5h1M269 482.5h1M305 482.5h2M312 482.5h4M344 482.5h1M349 482.5h1M386 482.5h1M403 482.5h1M643 482.5h1M673 482.5h1M677 482.5h1M89 483.5h1M92 483.5h1M263 483.5h1M269 483.5h1M303 483.5h2M315 483.5h1M343 483.5h1M350 483.5h1M386 483.5h1M403 483.5h1M643 483.5h3M672 483.5h1M677 483.5h1M89 484.5h1M92 484.5h1M263 484.5h1M270 484.5h1M301 484.5h2M315 484.5h1M342 484.5h1M350 484.5h1M385 484.5h1M403 484.5h1M643 484.5h1M646 484.5h1M672 484.5h1M678 484.5h1M89 485.5h1M92 485.5h1M262 485.5h1M270 485.5h1M299 485.5h2M316 485.5h1M342 485.5h1M351 485.5h1M385 485.5h1M404 485.5h1M642 485.5h1M647 485.5h1M671 485.5h1M678 485.5h1M88 486.5h1M93 486.5h1M261 486.5h1M271 486.5h1M298 486.5h1M316 486.5h1M341 486.5h1M351 486.5h1M363 486.5h9M384 486.5h1M404 486.5h1M642 486.5h1M648 486.5h2M671 486.5h1M678 486.5h1M88 487.5h1M93 487.5h1M251 487.5h3M260 487.5h1M271 487.5h1M296 487.5h2M316 487.5h1M340 487.5h1M352 487.5h1M362 487.5h1M372 487.5h1M384 487.5h1M404 487.5h1M642 487.5h1M650 487.5h1M671 487.5h1M679 487.5h1M87 488.5h1M93 488.5h1M250 488.5h1M254 488.5h4M260 488.5h1M271 488.5h1M295 488.5h1M316 488.5h1M340 488.5h1M352 488.5h1M361 488.5h1M372 488.5h1M384 488.5h1M404 488.5h1M642 488.5h1M651 488.5h1M670 488.5h1M679 488.5h1M699 488.5h1M87 489.5h1M93 489.5h1M250 489.5h1M258 489.5h2M272 489.5h1M294 489.5h1M316 489.5h1M336 489.5h4M353 489.5h1M360 489.5h1M373 489.5h1M383 489.5h1M405 489.5h1M641 489.5h1M651 489.5h1M670 489.5h1M680 489.5h1M698 489.5h2M87 490.5h1M94 490.5h1M249 490.5h1M272 490.5h1M292 490.5h2M317 490.5h1M331 490.5h5M353 490.5h1M358 490.5h2M373 490.5h1M383 490.5h1M405 490.5h1M641 490.5h1M652 490.5h1M669 490.5h1M680 490.5h1M698 490.5h1M700 490.5h1M86 491.5h1M94 491.5h1M248 491.5h1M273 491.5h1M291 491.5h1M317 491.5h1M331 491.5h1M354 491.5h1M357 491.5h1M374 491.5h1M383 491.5h1M405 491.5h1M641 491.5h1M652 491.5h1M669 491.5h1M680 491.5h1M697 491.5h1M700 491.5h1M86 492.5h1M94 492.5h1M248 492.5h1M273 492.5h1M291 492.5h1M317 492.5h1M330 492.5h1M354 492.5h1M356 492.5h1M374 492.5h1M382 492.5h1M405 492.5h1M641 492.5h1M652 492.5h1M668 492.5h1M681 492.5h1M696 492.5h1M701 492.5h1M85 493.5h1M94 493.5h1M247 493.5h1M274 493.5h1M290 493.5h1M317 493.5h1M330 493.5h1M355 493.5h1M375 493.5h1M382 493.5h1M406 493.5h1M563 493.5h1M640 493.5h1M653 493.5h1M668 493.5h1M681 493.5h1M696 493.5h1M701 493.5h1M85 494.5h1M94 494.5h1M246 494.5h1M274 494.5h1M290 494.5h1M318 494.5h1M330 494.5h1M375 494.5h1M382 494.5h1M406 494.5h1M562 494.5h1M564 494.5h1M587 494.5h1M627 494.5h1M640 494.5h1M653 494.5h1M667 494.5h1M681 494.5h1M695 494.5h1M701 494.5h1M739 494.5h1M85 495.5h1M95 495.5h1M246 495.5h1M275 495.5h1M289 495.5h1M318 495.5h1M330 495.5h1M376 495.5h1M381 495.5h1M406 495.5h1M562 495.5h1M564 495.5h1M586 495.5h2M626 495.5h2M640 495.5h1M653 495.5h1M667 495.5h1M682 495.5h1M694 495.5h1M702 495.5h1M739 495.5h1M84 496.5h1M95 496.5h1M245 496.5h1M275 496.5h1M289 496.5h1M318 496.5h1M329 496.5h1M376 496.5h1M381 496.5h1M406 496.5h1M561 496.5h1M565 496.5h1M585 496.5h1M587 496.5h1M625 496.5h1M628 496.5h1M640 496.5h1M654 496.5h1M666 496.5h1M682 496.5h1M694 496.5h1M702 496.5h1M715 496.5h1M738 496.5h1M740 496.5h1M84 497.5h1M95 497.5h1M244 497.5h1M276 497.5h1M289 497.5h1M318 497.5h1M329 497.5h1M377 497.5h1M380 497.5h1M407 497.5h1M475 497.5h1M561 497.5h1M565 497.5h1M584 497.5h1M588 497.5h1M624 497.5h1M628 497.5h1M640 497.5h1M654 497.5h1M666 497.5h1M683 497.5h1M693 497.5h1M702 497.5h1M714 497.5h2M738 497.5h1M740 497.5h1M83 498.5h1M95 498.5h1M244 498.5h1M276 498.5h1M288 498.5h1M318 498.5h1M329 498.5h1M377 498.5h1M380 498.5h1M407 498.5h1M475 498.5h1M560 498.5h1M566 498.5h1M583 498.5h1M588 498.5h1M623 498.5h1M628 498.5h1M639 498.5h1M654 498.5h1M665 498.5h1M683 498.5h3M692 498.5h1M703 498.5h1M714 498.5h1M716 498.5h1M738 498.5h1M740 498.5h1M80 499.5h4M96 499.5h1M243 499.5h1M277 499.5h1M288 499.5h1M319 499.5h1M329 499.5h1M378 499.5h1M380 499.5h1M407 499.5h1M474 499.5h1M476 499.5h1M559 499.5h1M566 499.5h1M583 499.5h1M588 499.5h1M622 499.5h1M629 499.5h1M639 499.5h1M655 499.5h1M665 499.5h1M686 499.5h4M692 499.5h1M703 499.5h1M713 499.5h1M716 499.5h1M738 499.5h1M741 499.5h1M75 500.5h5M96 500.5h1M243 500.5h1M277 500.5h1M287 500.5h1M319 500.5h1M328 500.5h1M378 500.5h2M407 500.5h1M474 500.5h1M476 500.5h1M559 500.5h1M567 500.5h1M582 500.5h1M588 500.5h1M621 500.5h1M629 500.5h1M639 500.5h1M655 500.5h1M664 500.5h1M690 500.5h2M704 500.5h1M713 500.5h1M716 500.5h1M737 500.5h1M741 500.5h1M75 501.5h1M96 501.5h1M107 501.5h1M243 501.5h1M278 501.5h1M287 501.5h1M319 501.5h1M328 501.5h1M379 501.5h1M408 501.5h1M474 501.5h1M477 501.5h1M558 501.5h1M567 501.5h1M581 501.5h1M589 501.5h1M620 501.5h1M629 501.5h1M639 501.5h1M656 501.5h1M664 501.5h1M704 501.5h1M712 501.5h1M717 501.5h1M737 501.5h1M741 501.5h1M74 502.5h1M96 502.5h1M106 502.5h1M108 502.5h1M242 502.5h1M278 502.5h1M287 502.5h1M319 502.5h1M328 502.5h1M408 502.5h1M474 502.5h1M477 502.5h1M557 502.5h1M568 502.5h1M580 502.5h1M589 502.5h1M619 502.5h1M630 502.5h1M638 502.5h1M656 502.5h1M663 502.5h1M704 502.5h1M711 502.5h1M717 502.5h1M737 502.5h1M742 502.5h1M74 503.5h1M96 503.5h1M106 503.5h1M108 503.5h1M242 503.5h1M279 503.5h1M286 503.5h1M319 503.5h1M328 503.5h1M408 503.5h1M473 503.5h1M478 503.5h1M557 503.5h1M568 503.5h1M579 503.5h1M589 503.5h1M617 503.5h2M630 503.5h1M638 503.5h1M656 503.5h1M663 503.5h1M705 503.5h1M711 503.5h1M717 503.5h1M737 503.5h1M742 503.5h1M74 504.5h1M97 504.5h1M105 504.5h1M109 504.5h1M242 504.5h1M279 504.5h1M286 504.5h1M320 504.5h1M327 504.5h1M408 504.5h1M473 504.5h1M478 504.5h1M556 504.5h1M569 504.5h1M577 504.5h2M589 504.5h1M616 504.5h1M630 504.5h1M638 504.5h1M657 504.5h1M662 504.5h1M705 504.5h1M710 504.5h1M718 504.5h1M736 504.5h1M742 504.5h1M74 505.5h1M97 505.5h1M105 505.5h1M109 505.5h1M123 505.5h1M242 505.5h1M280 505.5h1M285 505.5h1M320 505.5h1M327 505.5h1M409 505.5h1M473 505.5h1M479 505.5h1M556 505.5h1M569 505.5h1M576 505.5h1M590 505.5h1M614 505.5h2M631 505.5h1M638 505.5h1M657 505.5h1M662 505.5h1M705 505.5h1M709 505.5h1M718 505.5h1M736 505.5h1M743 505.5h1M73 506.5h1M97 506.5h1M104 506.5h1M110 506.5h1M122 506.5h2M242 506.5h1M280 506.5h1M285 506.5h1M320 506.5h1M327 506.5h1M409 506.5h1M473 506.5h1M479 506.5h1M555 506.5h1M570 506.5h1M574 506.5h2M590 506.5h1M612 506.5h2M631 506.5h1M638 506.5h1M657 506.5h1M661 506.5h1M706 506.5h1M709 506.5h1M718 506.5h1M736 506.5h1M743 506.5h1M73 507.5h1M97 507.5h1M103 507.5h1M110 507.5h1M121 507.5h1M123 507.5h1M171 507.5h1M187 507.5h1M241 507.5h1M281 507.5h1M285 507.5h1M320 507.5h1M326 507.5h1M409 507.5h1M472 507.5h1M480 507.5h1M554 507.5h1M570 507.5h1M572 507.5h2M590 507.5h1M611 507.5h1M632 507.5h1M637 507.5h1M658 507.5h1M661 507.5h1M706 507.5h1M708 507.5h1M719 507.5h1M736 507.5h1M744 507.5h1M73 508.5h1M98 508.5h1M103 508.5h1M111 508.5h1M121 508.5h1M124 508.5h1M170 508.5h1M172 508.5h1M186 508.5h2M241 508.5h1M281 508.5h1M284 508.5h1M320 508.5h1M326 508.5h1M409 508.5h1M472 508.5h1M480 508.5h1M553 508.5h1M571 508.5h1M590 508.5h1M610 508.5h1M632 508.5h1M637 508.5h1M658 508.5h1M660 508.5h1M707 508.5h2M719 508.5h1M735 508.5h1M744 508.5h1M73 509.5h1M98 509.5h1M102 509.5h1M112 509.5h1M120 509.5h1M124 509.5h1M168 509.5h2M172 509.5h1M186 509.5h1M188 509.5h1M241 509.5h1M282 509.5h1M284 509.5h1M321 509.5h1M326 509.5h1M410 509.5h1M472 509.5h1M481 509.5h1M552 509.5h1M591 509.5h1M609 509.5h1M632 509.5h1M637 509.5h1M658 509.5h1M660 509.5h1M707 509.5h1M719 509.5h1M735 509.5h1M744 509.5h1M72 510.5h1M98 510.5h1M101 510.5h1M112 510.5h1M119 510.5h1M124 510.5h1M167 510.5h1M173 510.5h1M185 510.5h1M188 510.5h1M241 510.5h1M282 510.5h2M321 510.5h1M326 510.5h1M410 510.5h1M471 510.5h1M481 510.5h1M551 510.5h1M591 510.5h1M608 510.5h1M633 510.5h1M637 510.5h1M659 510.5h1M719 510.5h1M735 510.5h1M745 510.5h1M72 511.5h1M98 511.5h1M101 511.5h1M113 511.5h1M118 511.5h1M124 511.5h1M166 511.5h1M173 511.5h1M185 511.5h1M189 511.5h1M241 511.5h1M283 511.5h1M321 511.5h1M325 511.5h1M410 511.5h1M471 511.5h1M482 511.5h1M551 511.5h1M591 511.5h1M607 511.5h1M633 511.5h1M636 511.5h1M659 511.5h1M720 511.5h1M735 511.5h1M745 511.5h1M72 512.5h1M99 512.5h2M113 512.5h1M117 512.5h1M125 512.5h1M164 512.5h2M174 512.5h1M184 512.5h1M189 512.5h1M240 512.5h1M321 512.5h1M325 512.5h1M410 512.5h1M471 512.5h1M482 512.5h1M550 512.5h1M591 512.5h1M607 512.5h1M633 512.5h1M636 512.5h1M720 512.5h1M734 512.5h1M745 512.5h1M72 513.5h1M99 513.5h2M114 513.5h1M117 513.5h1M125 513.5h1M163 513.5h1M174 513.5h1M184 513.5h1M190 513.5h1M240 513.5h1M322 513.5h1M325 513.5h1M411 513.5h1M471 513.5h1M483 513.5h1M549 513.5h1M592 513.5h1M606 513.5h1M634 513.5h1M636 513.5h1M720 513.5h1M734 513.5h1M746 513.5h1M71 514.5h1M99 514.5h1M114 514.5h1M116 514.5h1M125 514.5h1M163 514.5h1M175 514.5h1M183 514.5h1M190 514.5h1M240 514.5h1M322 514.5h1M325 514.5h1M411 514.5h1M470 514.5h1M484 514.5h1M548 514.5h1M592 514.5h1M605 514.5h1M634 514.5h1M636 514.5h1M721 514.5h1M734 514.5h1M746 514.5h1M71 515.5h1M115 515.5h1M125 515.5h1M163 515.5h1M175 515.5h1M183 515.5h1M191 515.5h1M240 515.5h1M322 515.5h1M324 515.5h1M411 515.5h1M470 515.5h1M485 515.5h1M547 515.5h1M592 515.5h1M604 515.5h1M634 515.5h2M721 515.5h1M734 515.5h1M746 515.5h1M71 516.5h1M126 516.5h1M162 516.5h1M176 516.5h1M182 516.5h1M191 516.5h1M240 516.5h1M322 516.5h1M324 516.5h1M411 516.5h1M470 516.5h1M486 516.5h2M515 516.5h1M547 516.5h1M592 516.5h1M603 516.5h1M635 516.5h1M721 516.5h1M733 516.5h1M747 516.5h1M795 516.5h1M71 517.5h1M126 517.5h1M162 517.5h1M176 517.5h1M182 517.5h1M192 517.5h1M239 517.5h1M322 517.5h1M324 517.5h1M412 517.5h1M469 517.5h1M488 517.5h1M515 517.5h2M546 517.5h1M593 517.5h1M602 517.5h1M635 517.5h1M722 517.5h1M733 517.5h1M747 517.5h1M795 517.5h1M70 518.5h1M126 518.5h1M162 518.5h1M177 518.5h1M181 518.5h1M192 518.5h1M203 518.5h1M239 518.5h1M323 518.5h2M412 518.5h1M469 518.5h1M489 518.5h1M514 518.5h1M516 518.5h1M546 518.5h1M593 518.5h1M602 518.5h1M722 518.5h1M733 518.5h1M748 518.5h1M794 518.5h1M796 518.5h1M70 519.5h1M126 519.5h1M162 519.5h1M177 519.5h1M181 519.5h1M193 519.5h1M202 519.5h2M239 519.5h1M323 519.5h1M413 519.5h1M469 519.5h1M490 519.5h1M514 519.5h1M517 519.5h1M545 519.5h1M593 519.5h1M601 519.5h1M722 519.5h1M733 519.5h1M748 519.5h1M794 519.5h1M796 519.5h1M70 520.5h1M127 520.5h1M161 520.5h1M178 520.5h1M180 520.5h1M193 520.5h1M200 520.5h2M204 520.5h1M239 520.5h1M323 520.5h1M413 520.5h1M469 520.5h1M491 520.5h1M514 520.5h1M518 520.5h1M545 520.5h1M593 520.5h1M600 520.5h1M723 520.5h1M732 520.5h1M749 520.5h1M794 520.5h1M797 520.5h1M70 521.5h1M127 521.5h1M161 521.5h1M178 521.5h1M180 521.5h1M194 521.5h1M199 521.5h1M204 521.5h1M239 521.5h1M414 521.5h1M468 521.5h1M492 521.5h1M513 521.5h1M518 521.5h1M544 521.5h1M594 521.5h1M599 521.5h1M723 521.5h1M732 521.5h1M750 521.5h1M794 521.5h1M797 521.5h1M69 522.5h1M127 522.5h1M161 522.5h1M179 522.5h1M194 522.5h1M198 522.5h1M205 522.5h1M238 522.5h1M414 522.5h1M468 522.5h1M493 522.5h1M513 522.5h1M519 522.5h1M544 522.5h1M594 522.5h1M599 522.5h1M724 522.5h2M732 522.5h1M750 522.5h1M793 522.5h1M798 522.5h1M3 523.5h1M69 523.5h1M127 523.5h1M161 523.5h1M195 523.5h3M205 523.5h1M238 523.5h1M415 523.5h1M459 523.5h2M468 523.5h1M493 523.5h1M513 523.5h1M520 523.5h1M543 523.5h1M594 523.5h1M598 523.5h1M726 523.5h2M732 523.5h1M751 523.5h1M793 523.5h1M798 523.5h1M4 524.5h1M69 524.5h1M128 524.5h1M160 524.5h1M195 524.5h1M206 524.5h1M238 524.5h1M415 524.5h1M459 524.5h1M461 524.5h3M468 524.5h1M494 524.5h1M512 524.5h1M520 524.5h1M543 524.5h1M594 524.5h1M597 524.5h1M728 524.5h1M731 524.5h1M752 524.5h1M793 524.5h1M799 524.5h1M5 525.5h1M69 525.5h1M128 525.5h1M160 525.5h1M206 525.5h1M238 525.5h1M415 525.5h1M458 525.5h1M464 525.5h2M467 525.5h1M495 525.5h1M512 525.5h1M521 525.5h1M530 525.5h2M543 525.5h1M595 525.5h2M729 525.5h3M752 525.5h1M792 525.5h1M799 525.5h1M6 526.5h2M68 526.5h1M128 526.5h1M160 526.5h1M207 526.5h1M238 526.5h1M416 526.5h1M458 526.5h1M466 526.5h2M496 526.5h1M512 526.5h1M522 526.5h1M528 526.5h2M532 526.5h1M542 526.5h1M595 526.5h2M731 526.5h1M753 526.5h1M792 526.5h1M800 526.5h1M8 527.5h1M68 527.5h1M128 527.5h1M160 527.5h1M207 527.5h1M237 527.5h1M416 527.5h1M458 527.5h1M497 527.5h1M511 527.5h1M522 527.5h1M525 527.5h3M533 527.5h1M542 527.5h1M595 527.5h1M754 527.5h1M792 527.5h1M800 527.5h1M811 527.5h1M9 528.5h1M68 528.5h1M129 528.5h1M159 528.5h1M208 528.5h1M237 528.5h1M417 528.5h1M457 528.5h1M497 528.5h1M511 528.5h1M523 528.5h2M534 528.5h1M541 528.5h1M754 528.5h1M792 528.5h1M801 528.5h1M810 528.5h1M812 528.5h1M10 529.5h1M68 529.5h1M129 529.5h1M159 529.5h1M208 529.5h1M237 529.5h1M417 529.5h1M457 529.5h1M498 529.5h1M511 529.5h1M535 529.5h1M541 529.5h1M755 529.5h1M791 529.5h1M801 529.5h1M808 529.5h2M813 529.5h1M11 530.5h1M43 530.5h1M67 530.5h1M129 530.5h1M159 530.5h1M209 530.5h1M237 530.5h1M418 530.5h1M457 530.5h1M499 530.5h1M510 530.5h1M536 530.5h1M540 530.5h1M756 530.5h1M791 530.5h1M802 530.5h1M807 530.5h1M814 530.5h2M12 531.5h1M42 531.5h1M44 531.5h1M67 531.5h1M129 531.5h1M159 531.5h1M209 531.5h1M237 531.5h1M418 531.5h1M456 531.5h1M500 531.5h1M510 531.5h1M537 531.5h1M540 531.5h1M757 531.5h1M791 531.5h1M802 531.5h1M806 531.5h1M816 531.5h1M12 532.5h1M42 532.5h1M45 532.5h1M67 532.5h1M130 532.5h1M158 532.5h1M210 532.5h1M218 532.5h6M236 532.5h1M419 532.5h1M456 532.5h1M501 532.5h1M510 532.5h1M538 532.5h2M757 532.5h1M790 532.5h1M803 532.5h3M817 532.5h1M13 533.5h1M41 533.5h1M46 533.5h1M66 533.5h1M130 533.5h1M158 533.5h1M210 533.5h1M214 533.5h4M224 533.5h4M236 533.5h1M419 533.5h1M456 533.5h1M501 533.5h1M509 533.5h1M539 533.5h1M758 533.5h1M790 533.5h1M803 533.5h1M818 533.5h1M14 534.5h1M41 534.5h1M47 534.5h1M64 534.5h2M130 534.5h1M158 534.5h1M211 534.5h3M228 534.5h2M236 534.5h1M420 534.5h2M455 534.5h1M502 534.5h1M509 534.5h1M759 534.5h1M790 534.5h1M819 534.5h1M14 535.5h1M40 535.5h1M48 535.5h1M63 535.5h1M130 535.5h1M158 535.5h1M230 535.5h1M236 535.5h1M422 535.5h1M455 535.5h1M503 535.5h1M509 535.5h1M760 535.5h1M790 535.5h1M15 536.5h1M40 536.5h1M49 536.5h1M62 536.5h1M131 536.5h1M157 536.5h1M231 536.5h1M236 536.5h1M423 536.5h1M454 536.5h1M504 536.5h1M508 536.5h1M761 536.5h1M789 536.5h1M16 537.5h1M39 537.5h1M50 537.5h1M60 537.5h2M131 537.5h1M157 537.5h1M232 537.5h2M235 537.5h1M424 537.5h2M454 537.5h1M505 537.5h1M508 537.5h1M761 537.5h1M789 537.5h1M16 538.5h1M39 538.5h1M51 538.5h9M131 538.5h3M157 538.5h1M234 538.5h2M426 538.5h1M454 538.5h1M505 538.5h1M508 538.5h1M762 538.5h1M789 538.5h1M17 539.5h1M38 539.5h1M134 539.5h4M157 539.5h1M235 539.5h1M427 539.5h1M453 539.5h1M506 539.5h2M763 539.5h2M788 539.5h1M18 540.5h1M38 540.5h1M138 540.5h2M156 540.5h1M428 540.5h2M453 540.5h1M507 540.5h1M765 540.5h2M788 540.5h1M18 541.5h1M37 541.5h1M140 541.5h2M156 541.5h1M430 541.5h1M453 541.5h1M767 541.5h2M788 541.5h1M19 542.5h2M37 542.5h1M142 542.5h2M156 542.5h1M431 542.5h1M452 542.5h1M769 542.5h2M788 542.5h1M21 543.5h3M36 543.5h1M144 543.5h1M156 543.5h1M432 543.5h2M452 543.5h1M771 543.5h5M787 543.5h1M24 544.5h2M36 544.5h1M145 544.5h2M155 544.5h1M434 544.5h1M452 544.5h1M776 544.5h12M26 545.5h10M147 545.5h5M155 545.5h1M435 545.5h13M451 545.5h1M152 546.5h4M448 546.5h4" fill="none" stroke="#ff0000" stroke-width="1"/>
<path d="M4 490.5h3M10 490.5h3M16 490.5h3M22 490.5h3M28 490.5h3M34 490.5h3M40 490.5h3M46 490.5h3M52 490.5h3M58 490.5h3M64 490.5h3M70 490.5h3M76 490.5h3M82 490.5h3M88 490.5h3M94 490.5h3M100 490.5h3M106 490.5h3M112 490.5h3M118 490.5h3M124 490.5h3M130 490.5h3M136 490.5h3M142 490.5h3M148 490.5h3M154 490.5h3M160 490.5h3M166 490.5h3M172 490.5h3M178 490.5h3M184 490.5h3M190 490.5h3M196 490.5h3M202 490.5h3M208 490.5h3M214 490.5h3M220 490.5h3M226 490.5h3M232 490.5h3M238 490.5h3M244 490.5h3M250 490.5h3M256 490.5h3M262 490.5h3M268 490.5h3M274 490.5h3M280 490.5h3M286 490.5h3M292 490.5h3M298 490.5h3M304 490.5h3M310 490.5h3M316 490.5h3M322 490.5h3M328 490.5h3M334 490.5h3M340 490.5h3M346 490.5h3M352 490.5h3M358 490.5h3M364 490.5h3M370 490.5h3M376 490.5h3M382 490.5h3M388 490.5h3M394 490.5h3M400 490.5h3M406 490.5h3M412 490.5h3M418 490.5h3M424 490.5h3M430 490.5h3M436 490.5h3M442 490.5h3M448 490.5h3M454 490.5h3M460 490.5h3M466 490.5h3M472 490.5h3M478 490.5h3M484 490.5h3M490 490.5h3M496 490.5h3M502 490.5h3M508 490.5h3M514 490.5h3M520 490.5h3M526 490.5h3M532 490.5h3M538 490.5h3M544 490.5h3M550 490.5h3M556 490.5h3M562 490.5h3M568 490.5h3M574 490.5h3M580 490.5h3M586 490.5h3M592 490.5h3M598 490.5h3M604 490.5h3M610 490.5h3M616 490.5h3M622 490.5h3M628 490.5h3M634 490.5h3M640 490.5h3M646 490.5h3M652 490.5h3M658 490.5h3M664 490.5h3M670 490.5h3M676 490.5h3M682 490.5h3M688 490.5h3M694 490.5h3M700 490.5h3M706 490.5h3M712 490.5h3M718 490.5h3M724 490.5h3M730 490.5h3M736 490.5h3M742 490.5h3M748 490.5h3M754 490.5h3M760 490.5h3M766 490.5h3M772 490.5h3M778 490.5h3M784 490.5h3M790 490.5h3M796 490.5h3M802 490.5h3M808 490.5h3M814 490.5h3M820 490.5h3M826 490.5h3M832 490.5h3M838 490.5h3M844 490.5h3M850 490.5h3M856 490.5h3M862 490.5h3M868 490.5h3M874 490.5h3M880 490.5h3M886 490.5h3M892 490.5h3M898 490.5h3M904 490.5h3M910 490.5h3M916 490.5h3M922 490.5h3M928 490.5h3M934 490.5h3M940 490.5h3M946 490.5h3M952 490.5h3M958 490.5h3M964 490.5h3M970 490.5h3M976 490.5h3M982 490.5h3M988 490.5h3M994 490.5h3M1000 490.5h3M1006 490.5h3M1012 490.5h3M1018 490.5h3M1024 490.5h3M1030 490.5h3M1036 490.5h3M1042 490.5h3M1048 490.5h1" fill="none" stroke="#d0d0d0" stroke-width="1"/>
<path d="M4 523.5h3M10 523.5h3M16 523.5h3M22 523.5h3M28 523.5h3M34 523.5h3M40 523.5h3M46 523.5h3M52 523.5h3M58 523.5h3M64 523.5h3M70 523.5h3M76 523.5h3M82 523.5h3M88 523.5h3M94 523.5h3M100 523.5h3M106 523.5h3M112 523.5h3M118 523.5h3M124 523.5h3M130 523.5h3M136 523.5h3M142 523.5h3M148 523.5h3M154 523.5h3M160 523.5h3M166 523.5h3M172 523.5h3M178 523.5h3M184 523.5h3M190 523.5h3M196 523.5h3M202 523.5h3M208 523.5h3M214 523.5h3M220 523.5h3M226 523.5h3M232 523.5h3M238 523.5h3M244 523.5h3M250 523.5h3M256 523.5h3M262 523.5h3M268 523.5h3M274 523.5h3M280 523.5h3M286 523.5h3M292 523.5h3M298 523.5h3M304 523.5h3M310 523.5h3M316 523.5h3M322 523.5h3M328 523.5h3M334 523.5h3M340 523.5h3M346 523.5h3M352 523.5h3M358 523.5h3M364 523.5h3M370 523.5h3M376 523.5h3M382 523.5h3M388 523.5h3M394 523.5h3M400 523.5h3M406 523.5h3M412 523.5h3M418 523.5h3M424 523.5h3M430 523.5h3M436 523.5h3M442 523.5h3M448 523.5h3M454 523.5h3M460 523.5h3M466 523.5h3M472 523.5h3M478 523.5h3M484 523.5h3M490 523.5h3M496 523.5h3M502 523.5h3M508 523.5h3M514 523.5h3M520 523.5h3M526 523.5h3M532 523.5h3M538 523.5h3M544 523.5h3M550 523.5h3M556 523.5h3M562 523.5h3M568 523.5h3M574 523.5h3M580 523.5h3M586 523.5h3M592 523.5h3M598 523.5h3M604 523.5h3M610 523.5h3M616 523.5h3M622 523.5h3M628 523.5h3M634 523.5h3M640 523.5h3M646 523.5h3M652 523.5h3M658 523.5h3M664 523.5h3M670 523.5h3M676 523.5h3M682 523.5h3M688 523.5h3M694 523.5h3M700 523.5h3M706 523.5h3M712 523.5h3M718 523.5h3M724 523.5h3M730 523.5h3M736 523.5h3M742 523.5h3M748 523.5h3M754 523.5h3M760 523.5h3M766 523.5h3M772 523.5h3M778 523.5h3M784 523.5h3M790 523.5h3M796 523.5h3M802 523.5h3M808 523.5h3M814 523.5h3M820 523.5h3M826 523.5h3M832 523.5h3M838 523.5h3M844 523.5h3M850 523.5h3M856 523.5h3M862 523.5h3M868 523.5h3M874 523.5h3M880 523.5h3M886 523.5h3M892 523.5h3M898 523.5h3M904 523.5h3M910 523.5h3M916 523.5h3M922 523.5h3M928 523.5h3M934 523.5h3M940 523.5h3M946 523.5h3M952 523.5h3M958 523.5h3M964 523.5h3M970 523.5h3M976 523.5h3M982 523.5h3M988 523.5h3M994 523.5h3M1000 523.5h3M1006 523.5h3M1012 523.5h3M1018 523.5h3M1024 523.5h3M1030 523.5h3M1036 523.5h3M1042 523.5h3M1048 523.5h1" fill="none" stroke="#d0d0d0" stroke-width="1"/>
<rect x="0" y="0" width="2" height="566" fill="#000"/>
<rect x="2" y="2" width="1048" height="1" fill="#fff"/>
<rect x="2" y="384" width="1048" height="1" fill="#fff"/>
<rect x="2" y="2" width="1" height="383" fill="#fff"/>
<rect x="1049" y="2" width="1" height="383" fill="#fff"/>
<rect x="2" y="386" width="1048" height="1" fill="#fff"/>
<rect x="2" y="461" width="1048" height="1" fill="#fff"/>
<rect x="2" y="386" width="1" height="76" fill="#fff"/>
<rect x="1049" y="386" width="1" height="76" fill="#fff"/>
<rect x="2" y="463" width="1048" height="1" fill="#fff"/>
<rect x="2" y="549" width="1048" height="1" fill="#fff"/>
<rect x="2" y="463" width="1" height="87" fill="#fff"/>
<rect x="1049" y="463" width="1" height="87" fill="#fff"/>
<rect x="1050" y="30" width="2" height="1" fill="#fff"/>
<text transform="translate(1055.3,33) rotate(.05)" fill="#fff" font-size="10.2" textLength="27.1" lengthAdjust="spacingAndGlyphs">120.10</text>
<rect x="1050" y="62" width="2" height="1" fill="#fff"/>
<text transform="translate(1055.3,65) rotate(.05)" fill="#fff" font-size="10.2" textLength="27.1" lengthAdjust="spacingAndGlyphs">118.05</text>
<rect x="1050" y="94" width="2" height="1" fill="#fff"/>
<text transform="translate(1055.3,97) rotate(.05)" fill="#fff" font-size="10.2" textLength="27.1" lengthAdjust="spacingAndGlyphs">116.00</text>
<rect x="1050" y="126" width="2" height="1" fill="#fff"/>
<text transform="translate(1055.3,129) rotate(.05)" fill="#fff" font-size="10.2" textLength="27.1" lengthAdjust="spacingAndGlyphs">113.95</text>
<rect x="1050" y="158" width="2" height="1" fill="#fff"/>
<text transform="translate(1055.3,161) rotate(.05)" fill="#fff" font-size="10.2" textLength="27.1" lengthAdjust="spacingAndGlyphs">111.90</text>
<rect x="1050" y="190" width="2" height="1" fill="#fff"/>
<text transform="translate(1055.3,193) rotate(.05)" fill="#fff" font-size="10.2" textLength="27.1" lengthAdjust="spacingAndGlyphs">109.85</text>
<rect x="1050" y="222" width="2" height="1" fill="#fff"/>
<text transform="translate(1055.3,225) rotate(.05)" fill="#fff" font-size="10.2" textLength="27.1" lengthAdjust="spacingAndGlyphs">107.80</text>
<rect x="1050" y="254" width="2" height="1" fill="#fff"/>
<text transform="translate(1055.3,257) rotate(.05)" fill="#fff" font-size="10.2" textLength="27.1" lengthAdjust="spacingAndGlyphs">105.75</text>
<rect x="1050" y="286" width="2" height="1" fill="#fff"/>
<text transform="translate(1055.3,289) rotate(.05)" fill="#fff" font-size="10.2" textLength="27.1" lengthAdjust="spacingAndGlyphs">103.75</text>
<rect x="1050" y="318" width="2" height="1" fill="#fff"/>
<text transform="translate(1055.3,321) rotate(.05)" fill="#fff" font-size="10.2" textLength="27.1" lengthAdjust="spacingAndGlyphs">101.70</text>
<rect x="1050" y="350" width="2" height="1" fill="#fff"/>
<text transform="translate(1055.3,353) rotate(.05)" fill="#fff" font-size="10.2" textLength="22.8" lengthAdjust="spacingAndGlyphs">99.65</text>
<rect x="1050" y="382" width="2" height="1" fill="#fff"/>
<text transform="translate(1055.3,385) rotate(.05)" fill="#fff" font-size="10.2" textLength="22.8" lengthAdjust="spacingAndGlyphs">97.60</text>
<rect x="1052" y="251" width="34" height="11" fill="#00ffff"/>
<text transform="translate(1056,260) rotate(.05)" class="k" fill="#000" font-size="10.2" textLength="26.3" lengthAdjust="spacingAndGlyphs">105.60</text>
<rect x="1052" y="307" width="34" height="11" fill="#fff"/>
<text transform="translate(1056,316) rotate(.05)" class="k" fill="#000" font-size="10.2" textLength="26.3" lengthAdjust="spacingAndGlyphs">101.98</text>
<rect x="1052" y="327" width="34" height="11" fill="#00ffff"/>
<text transform="translate(1056,336) rotate(.05)" class="k" fill="#000" font-size="10.2" textLength="26.3" lengthAdjust="spacingAndGlyphs">100.75</text>
<rect x="1050" y="388" width="1" height="1" fill="#fff"/>
<text transform="translate(1053.7,397) rotate(.05)" fill="#fff" font-size="10.2" textLength="13.5" lengthAdjust="spacingAndGlyphs">100</text>
<text transform="translate(1052,449) rotate(.05)" fill="#fff" font-size="10.2" textLength="9.2" lengthAdjust="spacingAndGlyphs">20</text>
<rect x="1050" y="460" width="1" height="1" fill="#fff"/>
<text transform="translate(1052.8,458) rotate(.05)" fill="#fff" font-size="10.2" textLength="4.4" lengthAdjust="spacingAndGlyphs">0</text>
<rect x="1052" y="398" width="29" height="11" fill="#00ffff"/>
<text transform="translate(1054.7,407) rotate(.05)" class="k" fill="#000" font-size="10.2" textLength="22.2" lengthAdjust="spacingAndGlyphs">77.03</text>
<rect x="1050" y="465" width="1" height="1" fill="#fff"/>
<text transform="translate(1053.7,474) rotate(.05)" fill="#fff" font-size="10.2" textLength="13.5" lengthAdjust="spacingAndGlyphs">100</text>
<rect x="1052" y="489" width="29" height="11" fill="#00ffff"/>
<text transform="translate(1054.7,498) rotate(.05)" class="k" fill="#000" font-size="10.2" textLength="22.2" lengthAdjust="spacingAndGlyphs">63.53</text>
<text transform="translate(1052,493) rotate(.05)" fill="#fff" font-size="10.2" textLength="9.2" lengthAdjust="spacingAndGlyphs">70</text>
<text transform="translate(1052,526) rotate(.05)" fill="#fff" font-size="10.2" textLength="9.2" lengthAdjust="spacingAndGlyphs">30</text>
<rect x="1050" y="548" width="1" height="1" fill="#fff"/>
<text transform="translate(1052.8,546) rotate(.05)" fill="#fff" font-size="10.2" textLength="4.4" lengthAdjust="spacingAndGlyphs">0</text>
<text transform="translate(6.4,14) rotate(.05)" fill="#fff" font-size="10.2" textLength="60.4" lengthAdjust="spacingAndGlyphs">USDJPY,Daily</text>
<text transform="translate(74.0,14) rotate(.05)" fill="#fff" font-size="10.2" textLength="27.1" lengthAdjust="spacingAndGlyphs">102.49</text>
<text transform="translate(105.2,14) rotate(.05)" fill="#fff" font-size="10.2" textLength="27.1" lengthAdjust="spacingAndGlyphs">102.51</text>
<text transform="translate(136.2,14) rotate(.05)" fill="#fff" font-size="10.2" textLength="27.1" lengthAdjust="spacingAndGlyphs">101.82</text>
<text transform="translate(167.2,14) rotate(.05)" fill="#fff" font-size="10.2" textLength="27.2" lengthAdjust="spacingAndGlyphs">101.98</text>
<text transform="translate(6.5,400) rotate(.05)" fill="#fff" font-size="10.2" textLength="49.5" lengthAdjust="spacingAndGlyphs">Stoch(8,3,3)</text>
<text transform="translate(60.2,400) rotate(.05)" fill="#fff" font-size="10.2" textLength="32.1" lengthAdjust="spacingAndGlyphs">12.5149</text>
<text transform="translate(97.7,400) rotate(.05)" fill="#fff" font-size="10.2" textLength="30.2" lengthAdjust="spacingAndGlyphs">14.3525</text>
<text transform="translate(6.5,477) rotate(.05)" fill="#fff" font-size="10.2" textLength="31.4" lengthAdjust="spacingAndGlyphs">RSI(13)</text>
<text transform="translate(41.5,477) rotate(.05)" fill="#fff" font-size="10.2" textLength="32.6" lengthAdjust="spacingAndGlyphs">26.2323</text>
<text transform="translate(79.8,477) rotate(.05)" fill="#fff" font-size="10.2" textLength="27.5" lengthAdjust="spacingAndGlyphs">RSI(3)</text>
<text transform="translate(111.3,477) rotate(.05)" fill="#fff" font-size="10.2" textLength="31.9" lengthAdjust="spacingAndGlyphs">15.5517</text>
<text transform="translate(5.6,544) rotate(.05)" fill="#fff" font-size="10.2" textLength="11.7" lengthAdjust="spacingAndGlyphs">AL</text>
<text transform="translate(21.9,544) rotate(.05)" fill="#fff" font-size="10.2" textLength="24.5" lengthAdjust="spacingAndGlyphs">Trade</text>
<text transform="translate(49.6,544) rotate(.05)" fill="#fff" font-size="10.2" textLength="7.8" lengthAdjust="spacingAndGlyphs">4,</text>
<text transform="translate(60.6,544) rotate(.05)" fill="#fff" font-size="10.2" textLength="8.6" lengthAdjust="spacingAndGlyphs">©</text>
<text transform="translate(72.8,544) rotate(.05)" fill="#fff" font-size="10.2" textLength="43.0" lengthAdjust="spacingAndGlyphs">2001-2007</text>
<text transform="translate(119.6,544) rotate(.05)" fill="#fff" font-size="10.2" textLength="53.1" lengthAdjust="spacingAndGlyphs">MetaQuotes</text>
<text transform="translate(175.7,544) rotate(.05)" fill="#fff" font-size="10.2" textLength="39.8" lengthAdjust="spacingAndGlyphs">Software</text>
<text transform="translate(218.7,544) rotate(.05)" fill="#fff" font-size="10.2" textLength="25.6" lengthAdjust="spacingAndGlyphs">Corp.</text>
<rect x="3" y="550" width="1" height="3" fill="#fff"/>
<text transform="translate(2.7,562) rotate(.05)" fill="#fff" font-size="10.2" textLength="8.7" lengthAdjust="spacingAndGlyphs">16</text>
<text transform="translate(14.6,562) rotate(.05)" fill="#fff" font-size="10.2" textLength="16.2" lengthAdjust="spacingAndGlyphs">Oct</text>
<text transform="translate(33.4,562) rotate(.05)" fill="#fff" font-size="10.2" textLength="19.0" lengthAdjust="spacingAndGlyphs">2007</text>
<rect x="67" y="550" width="1" height="3" fill="#fff"/>
<text transform="translate(65.6,562) rotate(.05)" fill="#fff" font-size="10.2" textLength="9.8" lengthAdjust="spacingAndGlyphs">26</text>
<text transform="translate(78.6,562) rotate(.05)" fill="#fff" font-size="10.2" textLength="15.4" lengthAdjust="spacingAndGlyphs">Oct</text>
<text transform="translate(96.6,562) rotate(.05)" fill="#fff" font-size="10.2" textLength="18.9" lengthAdjust="spacingAndGlyphs">2007</text>
<rect x="131" y="550" width="1" height="3" fill="#fff"/>
<text transform="translate(129.6,562) rotate(.05)" fill="#fff" font-size="10.2" textLength="4.6" lengthAdjust="spacingAndGlyphs">7</text>
<text transform="translate(137.8,562) rotate(.05)" fill="#fff" font-size="10.2" textLength="17.6" lengthAdjust="spacingAndGlyphs">Nov</text>
<text transform="translate(158.6,562) rotate(.05)" fill="#fff" font-size="10.2" textLength="19.1" lengthAdjust="spacingAndGlyphs">2007</text>
<rect x="195" y="550" width="1" height="3" fill="#fff"/>
<text transform="translate(194.7,562) rotate(.05)" fill="#fff" font-size="10.2" textLength="8.9" lengthAdjust="spacingAndGlyphs">19</text>
<text transform="translate(207.0,562) rotate(.05)" fill="#fff" font-size="10.2" textLength="17.3" lengthAdjust="spacingAndGlyphs">Nov</text>
<text transform="translate(227.9,562) rotate(.05)" fill="#fff" font-size="10.2" textLength="18.9" lengthAdjust="spacingAndGlyphs">2007</text>
<rect x="259" y="550" width="1" height="3" fill="#fff"/>
<text transform="translate(257.6,562) rotate(.05)" fill="#fff" font-size="10.2" textLength="9.8" lengthAdjust="spacingAndGlyphs">29</text>
<text transform="translate(270.1,562) rotate(.05)" fill="#fff" font-size="10.2" textLength="17.8" lengthAdjust="spacingAndGlyphs">Nov</text>
<text transform="translate(290.9,562) rotate(.05)" fill="#fff" font-size="10.2" textLength="20.3" lengthAdjust="spacingAndGlyphs">2007</text>
<rect x="323" y="550" width="1" height="3" fill="#fff"/>
<text transform="translate(322.6,562) rotate(.05)" fill="#fff" font-size="10.2" textLength="9.1" lengthAdjust="spacingAndGlyphs">11</text>
<text transform="translate(334.6,562) rotate(.05)" fill="#fff" font-size="10.2" textLength="16.4" lengthAdjust="spacingAndGlyphs">Dec</text>
<text transform="translate(353.5,562) rotate(.05)" fill="#fff" font-size="10.2" textLength="19.9" lengthAdjust="spacingAndGlyphs">2007</text>
<rect x="387" y="550" width="1" height="3" fill="#fff"/>
<text transform="translate(386.0,562) rotate(.05)" fill="#fff" font-size="10.2" textLength="9.5" lengthAdjust="spacingAndGlyphs">21</text>
<text transform="translate(398.5,562) rotate(.05)" fill="#fff" font-size="10.2" textLength="16.6" lengthAdjust="spacingAndGlyphs">Dec</text>
<text transform="translate(417.3,562) rotate(.05)" fill="#fff" font-size="10.2" textLength="20.3" lengthAdjust="spacingAndGlyphs">2007</text>
<rect x="451" y="550" width="1" height="3" fill="#fff"/>
<text transform="translate(449.8,562) rotate(.05)" fill="#fff" font-size="10.2" textLength="5.3" lengthAdjust="spacingAndGlyphs">4</text>
<text transform="translate(457.8,562) rotate(.05)" fill="#fff" font-size="10.2" textLength="14.8" lengthAdjust="spacingAndGlyphs">Jan</text>
<text transform="translate(474.8,562) rotate(.05)" fill="#fff" font-size="10.2" textLength="19.6" lengthAdjust="spacingAndGlyphs">2008</text>
<rect x="515" y="550" width="1" height="3" fill="#fff"/>
<text transform="translate(514.7,562) rotate(.05)" fill="#fff" font-size="10.2" textLength="8.7" lengthAdjust="spacingAndGlyphs">16</text>
<text transform="translate(526.6,562) rotate(.05)" fill="#fff" font-size="10.2" textLength="14.8" lengthAdjust="spacingAndGlyphs">Jan</text>
<text transform="translate(543.9,562) rotate(.05)" fill="#fff" font-size="10.2" textLength="19.5" lengthAdjust="spacingAndGlyphs">2008</text>
<rect x="579" y="550" width="1" height="3" fill="#fff"/>
<text transform="translate(577.6,562) rotate(.05)" fill="#fff" font-size="10.2" textLength="9.8" lengthAdjust="spacingAndGlyphs">28</text>
<text transform="translate(590.1,562) rotate(.05)" fill="#fff" font-size="10.2" textLength="14.8" lengthAdjust="spacingAndGlyphs">Jan</text>
<text transform="translate(607.6,562) rotate(.05)" fill="#fff" font-size="10.2" textLength="19.8" lengthAdjust="spacingAndGlyphs">2008</text>
<rect x="643" y="550" width="1" height="3" fill="#fff"/>
<text transform="translate(641.6,562) rotate(.05)" fill="#fff" font-size="10.2" textLength="5.1" lengthAdjust="spacingAndGlyphs">7</text>
<text transform="translate(650.2,562) rotate(.05)" fill="#fff" font-size="10.2" textLength="16.6" lengthAdjust="spacingAndGlyphs">Feb</text>
<text transform="translate(669.0,562) rotate(.05)" fill="#fff" font-size="10.2" textLength="19.5" lengthAdjust="spacingAndGlyphs">2008</text>
<rect x="707" y="550" width="1" height="3" fill="#fff"/>
<text transform="translate(706.5,562) rotate(.05)" fill="#fff" font-size="10.2" textLength="9.1" lengthAdjust="spacingAndGlyphs">19</text>
<text transform="translate(718.5,562) rotate(.05)" fill="#fff" font-size="10.2" textLength="17.1" lengthAdjust="spacingAndGlyphs">Feb</text>
<text transform="translate(737.8,562) rotate(.05)" fill="#fff" font-size="10.2" textLength="19.8" lengthAdjust="spacingAndGlyphs">2008</text>
<rect x="771" y="550" width="1" height="3" fill="#fff"/>
<text transform="translate(769.8,562) rotate(.05)" fill="#fff" font-size="10.2" textLength="9.6" lengthAdjust="spacingAndGlyphs">29</text>
<text transform="translate(782.3,562) rotate(.05)" fill="#fff" font-size="10.2" textLength="17.1" lengthAdjust="spacingAndGlyphs">Feb</text>
<text transform="translate(801.8,562) rotate(.05)" fill="#fff" font-size="10.2" textLength="19.6" lengthAdjust="spacingAndGlyphs">2008</text>
</svg>
</body></html>
